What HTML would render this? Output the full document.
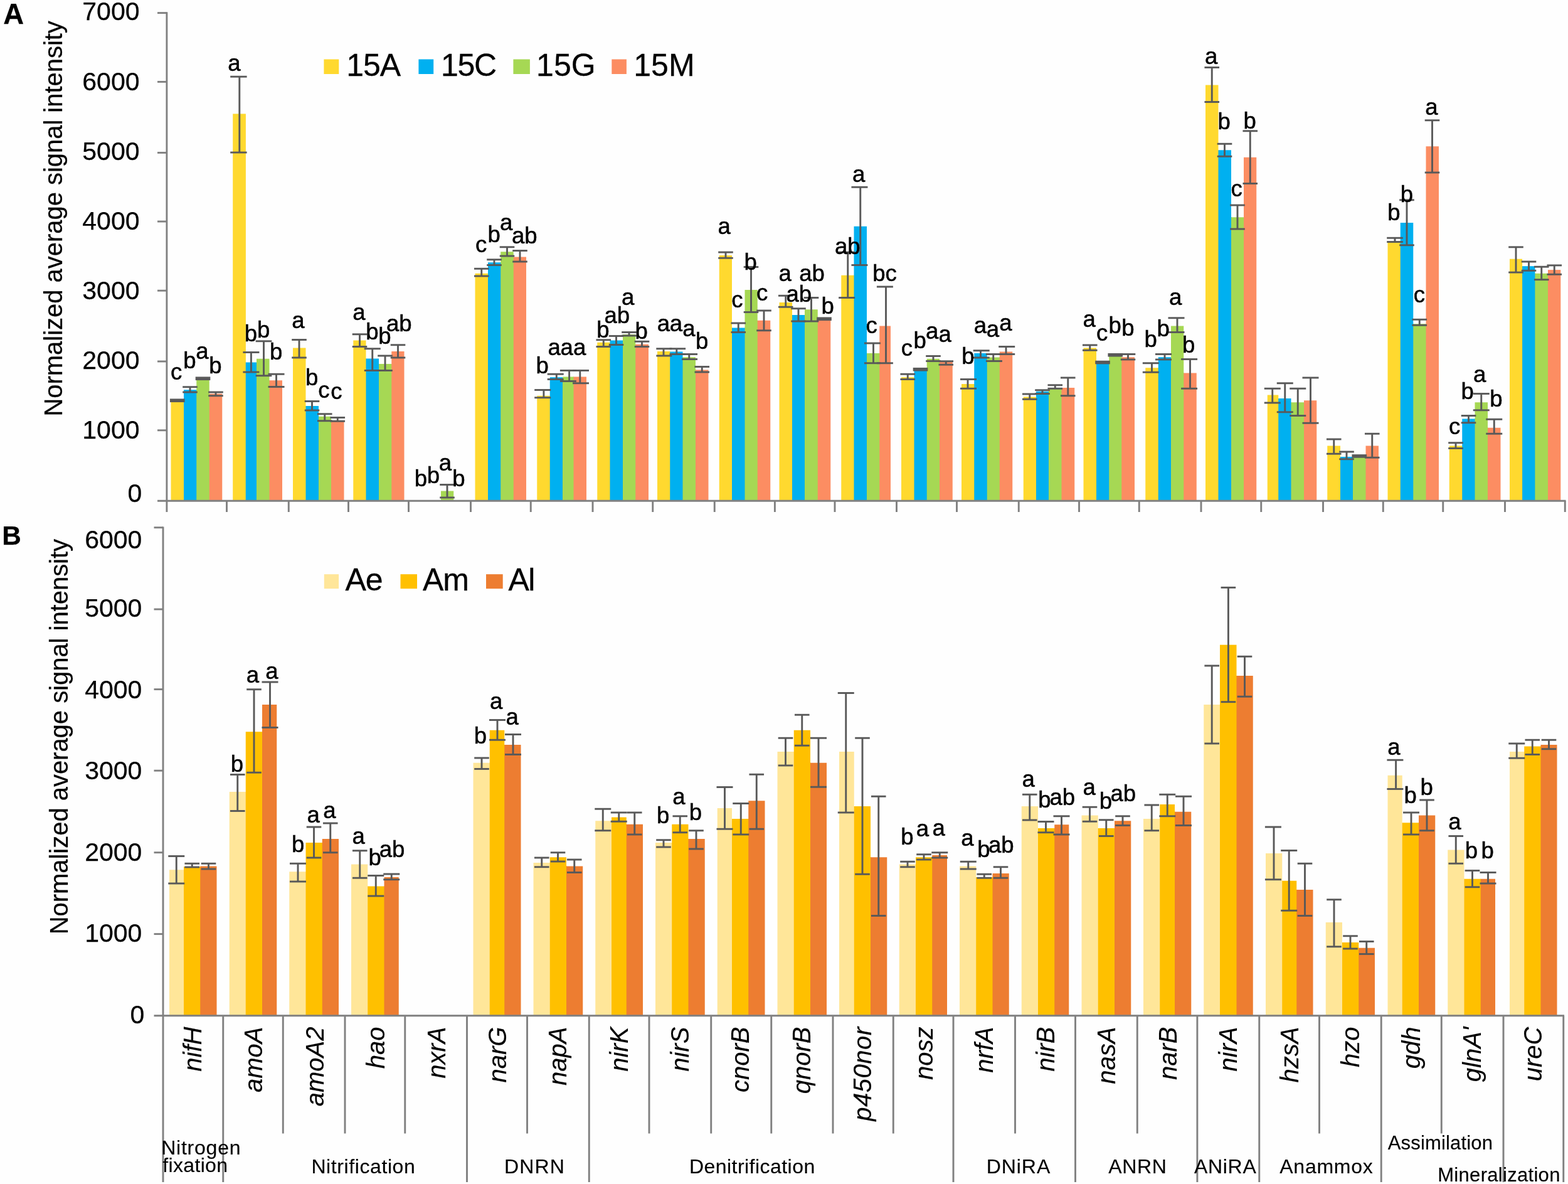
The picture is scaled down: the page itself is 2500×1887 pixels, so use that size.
<!DOCTYPE html>
<html lang="en"><head><meta charset="utf-8"><title>Normalized average signal intensity of N-cycling genes</title>
<style>
html,body{margin:0;padding:0;background:#fff;}
body{width:2500px;height:1887px;overflow:hidden;}
svg{display:block;}
svg text{stroke:#000;stroke-width:0.25px;}
svg text.l{stroke-width:0.5px;}
svg text.g{stroke-width:0.3px;}
svg text.n{stroke-width:0.15px;}
svg text{font-family:"Liberation Sans",sans-serif;fill:#000;}
</style></head>
<body>
<svg width="2500" height="1887" viewBox="0 0 2500 1887" shape-rendering="auto">
<rect x="0" y="0" width="2500" height="1887" fill="#fefefe"/>
<g id="chartA">
<rect x="293" y="639.5" width="1" height="158.7" fill="#FFD92F"/>
<rect x="313" y="621.25" width="1" height="176.95" fill="#00B0F0"/>
<rect x="333" y="627.5" width="1" height="170.7" fill="#A6D854"/>
<rect x="272.5" y="639.5" width="20.5" height="158.7" fill="#FFD92F"/>
<rect x="293" y="621.25" width="20.25" height="176.95" fill="#00B0F0"/>
<rect x="313.25" y="605" width="20.5" height="193.2" fill="#A6D854"/>
<rect x="333.75" y="627.5" width="20.5" height="170.7" fill="#FC8D62"/>
<rect x="391" y="577.5" width="1" height="220.7" fill="#FFD92F"/>
<rect x="409" y="577.5" width="1" height="220.7" fill="#00B0F0"/>
<rect x="429" y="606.25" width="1" height="191.95" fill="#A6D854"/>
<rect x="371.2" y="181.4" width="20.7" height="616.8" fill="#FFD92F"/>
<rect x="391.75" y="577.5" width="17.25" height="220.7" fill="#00B0F0"/>
<rect x="409" y="571.75" width="20.5" height="226.45" fill="#A6D854"/>
<rect x="429.5" y="606.25" width="20.5" height="191.95" fill="#FC8D62"/>
<rect x="487" y="647" width="1" height="151.2" fill="#FFD92F"/>
<rect x="508" y="663.75" width="1" height="134.45" fill="#00B0F0"/>
<rect x="528" y="670" width="1" height="128.2" fill="#A6D854"/>
<rect x="467" y="554.5" width="20.5" height="243.7" fill="#FFD92F"/>
<rect x="487.5" y="647" width="20.5" height="151.2" fill="#00B0F0"/>
<rect x="508" y="663.75" width="20" height="134.45" fill="#A6D854"/>
<rect x="528" y="670" width="20.5" height="128.2" fill="#FC8D62"/>
<rect x="583" y="571.5" width="1" height="226.7" fill="#FFD92F"/>
<rect x="604" y="580" width="1" height="218.2" fill="#00B0F0"/>
<rect x="624" y="580" width="1" height="218.2" fill="#A6D854"/>
<rect x="563.25" y="542.5" width="20.25" height="255.7" fill="#FFD92F"/>
<rect x="583.5" y="571.5" width="20.5" height="226.7" fill="#00B0F0"/>
<rect x="604" y="580" width="20.25" height="218.2" fill="#A6D854"/>
<rect x="624.25" y="560" width="20.25" height="238.2" fill="#FC8D62"/>
<rect x="703" y="782.5" width="20.25" height="15.7" fill="#A6D854"/>
<rect x="778" y="435.75" width="1" height="362.45" fill="#FFD92F"/>
<rect x="798" y="418.25" width="1" height="379.95" fill="#00B0F0"/>
<rect x="818" y="409.5" width="1" height="388.7" fill="#A6D854"/>
<rect x="757.5" y="435.75" width="20.5" height="362.45" fill="#FFD92F"/>
<rect x="778" y="418.25" width="20.25" height="379.95" fill="#00B0F0"/>
<rect x="798.25" y="401.25" width="20.5" height="396.95" fill="#A6D854"/>
<rect x="818.75" y="409.5" width="20.25" height="388.7" fill="#FC8D62"/>
<rect x="876" y="630.75" width="1" height="167.45" fill="#FFD92F"/>
<rect x="897" y="601.25" width="1" height="196.95" fill="#00B0F0"/>
<rect x="914" y="600.5" width="1" height="197.7" fill="#A6D854"/>
<rect x="856.25" y="630.75" width="20.5" height="167.45" fill="#FFD92F"/>
<rect x="876.75" y="601.25" width="20.25" height="196.95" fill="#00B0F0"/>
<rect x="897" y="600.5" width="17.5" height="197.7" fill="#A6D854"/>
<rect x="914.5" y="600.5" width="20.5" height="197.7" fill="#FC8D62"/>
<rect x="972" y="545.75" width="1" height="252.45" fill="#FFD92F"/>
<rect x="993" y="542.5" width="1" height="255.7" fill="#00B0F0"/>
<rect x="1013" y="548.75" width="1" height="249.45" fill="#A6D854"/>
<rect x="952.25" y="545.75" width="20.25" height="252.45" fill="#FFD92F"/>
<rect x="972.5" y="542.5" width="20.5" height="255.7" fill="#00B0F0"/>
<rect x="993" y="533" width="20.25" height="265.2" fill="#A6D854"/>
<rect x="1013.25" y="548.75" width="20.75" height="249.45" fill="#FC8D62"/>
<rect x="1068" y="560.5" width="1" height="237.7" fill="#FFD92F"/>
<rect x="1088" y="569.25" width="1" height="228.95" fill="#00B0F0"/>
<rect x="1109" y="589.5" width="1" height="208.7" fill="#A6D854"/>
<rect x="1048" y="560" width="20.25" height="238.2" fill="#FFD92F"/>
<rect x="1068.25" y="560.5" width="20.25" height="237.7" fill="#00B0F0"/>
<rect x="1088.5" y="569.25" width="20.5" height="228.95" fill="#A6D854"/>
<rect x="1109" y="589.5" width="20.5" height="208.7" fill="#FC8D62"/>
<rect x="1167" y="522.5" width="1" height="275.7" fill="#FFD92F"/>
<rect x="1187" y="522.5" width="1" height="275.7" fill="#00B0F0"/>
<rect x="1207" y="510.75" width="1" height="287.45" fill="#A6D854"/>
<rect x="1146.75" y="407" width="20.25" height="391.2" fill="#FFD92F"/>
<rect x="1167" y="522.5" width="20.5" height="275.7" fill="#00B0F0"/>
<rect x="1187.5" y="462" width="20.25" height="336.2" fill="#A6D854"/>
<rect x="1207.75" y="510.75" width="20.5" height="287.45" fill="#FC8D62"/>
<rect x="1263" y="502" width="1" height="296.2" fill="#FFD92F"/>
<rect x="1283" y="502" width="1" height="296.2" fill="#00B0F0"/>
<rect x="1303" y="510" width="1" height="288.2" fill="#A6D854"/>
<rect x="1242.5" y="482" width="20.5" height="316.2" fill="#FFD92F"/>
<rect x="1263" y="502" width="20" height="296.2" fill="#00B0F0"/>
<rect x="1283" y="493.25" width="20.75" height="304.95" fill="#A6D854"/>
<rect x="1303.75" y="510" width="20.5" height="288.2" fill="#FC8D62"/>
<rect x="1361" y="438.75" width="1" height="359.45" fill="#FFD92F"/>
<rect x="1382" y="563" width="1" height="235.2" fill="#00B0F0"/>
<rect x="1402" y="563" width="1" height="235.2" fill="#A6D854"/>
<rect x="1341.25" y="438.75" width="20.25" height="359.45" fill="#FFD92F"/>
<rect x="1361.5" y="360.75" width="20.5" height="437.45" fill="#00B0F0"/>
<rect x="1382" y="563" width="20.25" height="235.2" fill="#A6D854"/>
<rect x="1402.25" y="519.5" width="17.75" height="278.7" fill="#FC8D62"/>
<rect x="1457" y="601.25" width="1" height="196.95" fill="#FFD92F"/>
<rect x="1477" y="590.75" width="1" height="207.45" fill="#00B0F0"/>
<rect x="1498" y="577" width="1" height="221.2" fill="#A6D854"/>
<rect x="1437" y="601.25" width="20.5" height="196.95" fill="#FFD92F"/>
<rect x="1457.5" y="590.75" width="20.25" height="207.45" fill="#00B0F0"/>
<rect x="1477.75" y="571.75" width="20.25" height="226.45" fill="#A6D854"/>
<rect x="1498" y="577" width="20.75" height="221.2" fill="#FC8D62"/>
<rect x="1553" y="612" width="1" height="186.2" fill="#FFD92F"/>
<rect x="1573" y="569.5" width="1" height="228.7" fill="#00B0F0"/>
<rect x="1593" y="569.5" width="1" height="228.7" fill="#A6D854"/>
<rect x="1533" y="612" width="20.25" height="186.2" fill="#FFD92F"/>
<rect x="1553.25" y="563" width="20.5" height="235.2" fill="#00B0F0"/>
<rect x="1573.75" y="569.5" width="20" height="228.7" fill="#A6D854"/>
<rect x="1593.75" y="560.5" width="20.5" height="237.7" fill="#FC8D62"/>
<rect x="1652" y="632.5" width="1" height="165.7" fill="#FFD92F"/>
<rect x="1672" y="623.75" width="1" height="174.45" fill="#00B0F0"/>
<rect x="1692" y="620" width="1" height="178.2" fill="#A6D854"/>
<rect x="1631.75" y="632.5" width="20.25" height="165.7" fill="#FFD92F"/>
<rect x="1652" y="623.75" width="20" height="174.45" fill="#00B0F0"/>
<rect x="1672" y="620" width="20.5" height="178.2" fill="#A6D854"/>
<rect x="1692.5" y="618" width="20.75" height="180.2" fill="#FC8D62"/>
<rect x="1748" y="578.75" width="1" height="219.45" fill="#FFD92F"/>
<rect x="1768" y="578.75" width="1" height="219.45" fill="#00B0F0"/>
<rect x="1788" y="569.25" width="1" height="228.95" fill="#A6D854"/>
<rect x="1727.5" y="554.5" width="20.5" height="243.7" fill="#FFD92F"/>
<rect x="1748" y="578.75" width="20.25" height="219.45" fill="#00B0F0"/>
<rect x="1768.25" y="567.5" width="20" height="230.7" fill="#A6D854"/>
<rect x="1788.25" y="569.25" width="20.75" height="228.95" fill="#FC8D62"/>
<rect x="1846" y="586.25" width="1" height="211.95" fill="#FFD92F"/>
<rect x="1867" y="569.25" width="1" height="228.95" fill="#00B0F0"/>
<rect x="1887" y="594.5" width="1" height="203.7" fill="#A6D854"/>
<rect x="1826.25" y="586.25" width="20.5" height="211.95" fill="#FFD92F"/>
<rect x="1846.75" y="569.25" width="20.25" height="228.95" fill="#00B0F0"/>
<rect x="1867" y="519.5" width="20.25" height="278.7" fill="#A6D854"/>
<rect x="1887.25" y="594.5" width="20.5" height="203.7" fill="#FC8D62"/>
<rect x="1942" y="239.25" width="1" height="558.95" fill="#FFD92F"/>
<rect x="1963" y="346.25" width="1" height="451.95" fill="#00B0F0"/>
<rect x="1983" y="346.25" width="1" height="451.95" fill="#A6D854"/>
<rect x="1922" y="135.5" width="20.5" height="662.7" fill="#FFD92F"/>
<rect x="1942.5" y="239.25" width="20.5" height="558.95" fill="#00B0F0"/>
<rect x="1963" y="346.25" width="20" height="451.95" fill="#A6D854"/>
<rect x="1983" y="250.75" width="20.25" height="547.45" fill="#FC8D62"/>
<rect x="2038" y="635" width="1" height="163.2" fill="#FFD92F"/>
<rect x="2058" y="641.25" width="1" height="156.95" fill="#00B0F0"/>
<rect x="2079" y="641.25" width="1" height="156.95" fill="#A6D854"/>
<rect x="2020.75" y="629.5" width="17.5" height="168.7" fill="#FFD92F"/>
<rect x="2038.25" y="635" width="20.25" height="163.2" fill="#00B0F0"/>
<rect x="2058.5" y="641.25" width="20.5" height="156.95" fill="#A6D854"/>
<rect x="2079" y="638.25" width="20.25" height="159.95" fill="#FC8D62"/>
<rect x="2137" y="728" width="1" height="70.2" fill="#FFD92F"/>
<rect x="2157" y="728.75" width="1" height="69.45" fill="#00B0F0"/>
<rect x="2177" y="728.75" width="1" height="69.45" fill="#A6D854"/>
<rect x="2116.25" y="710.5" width="20.75" height="87.7" fill="#FFD92F"/>
<rect x="2137" y="728" width="20" height="70.2" fill="#00B0F0"/>
<rect x="2157" y="728.75" width="20.5" height="69.45" fill="#A6D854"/>
<rect x="2177.5" y="710.5" width="20.5" height="87.7" fill="#FC8D62"/>
<rect x="2232" y="385" width="1" height="413.2" fill="#FFD92F"/>
<rect x="2253" y="516.25" width="1" height="281.95" fill="#00B0F0"/>
<rect x="2273" y="516.25" width="1" height="281.95" fill="#A6D854"/>
<rect x="2212.5" y="385" width="20.25" height="413.2" fill="#FFD92F"/>
<rect x="2232.75" y="355" width="20.5" height="443.2" fill="#00B0F0"/>
<rect x="2253.25" y="516.25" width="20.25" height="281.95" fill="#A6D854"/>
<rect x="2273.5" y="233.25" width="20.5" height="564.95" fill="#FC8D62"/>
<rect x="2331" y="710.5" width="1" height="87.7" fill="#FFD92F"/>
<rect x="2351" y="667.5" width="1" height="130.7" fill="#00B0F0"/>
<rect x="2372" y="681.75" width="1" height="116.45" fill="#A6D854"/>
<rect x="2310.75" y="710.5" width="20.5" height="87.7" fill="#FFD92F"/>
<rect x="2331.25" y="667.5" width="20.25" height="130.7" fill="#00B0F0"/>
<rect x="2351.5" y="641.25" width="20.5" height="156.95" fill="#A6D854"/>
<rect x="2372" y="681.75" width="20.5" height="116.45" fill="#FC8D62"/>
<rect x="2427" y="424.2" width="1" height="374" fill="#FFD92F"/>
<rect x="2447" y="435.8" width="1" height="362.4" fill="#00B0F0"/>
<rect x="2468" y="435.8" width="1" height="362.4" fill="#A6D854"/>
<rect x="2407" y="412.7" width="20.1" height="385.5" fill="#FFD92F"/>
<rect x="2427.1" y="424.2" width="20.3" height="374" fill="#00B0F0"/>
<rect x="2447.4" y="435.8" width="20.6" height="362.4" fill="#A6D854"/>
<rect x="2468" y="430.1" width="20.3" height="368.1" fill="#FC8D62"/>
<rect x="270.95" y="635.45" width="23.6" height="5.6" fill="#595959"/>
<line x1="303" y1="616.75" x2="303" y2="625" stroke="#595959" stroke-width="2.9"/>
<line x1="291.2" y1="616.75" x2="314.8" y2="616.75" stroke="#595959" stroke-width="2.9"/>
<line x1="291.2" y1="625" x2="314.8" y2="625" stroke="#595959" stroke-width="2.9"/>
<rect x="311.7" y="600.45" width="23.6" height="5.6" fill="#595959"/>
<line x1="344" y1="625" x2="344" y2="630.75" stroke="#595959" stroke-width="2.9"/>
<line x1="332.2" y1="625" x2="355.8" y2="625" stroke="#595959" stroke-width="2.9"/>
<line x1="332.2" y1="630.75" x2="355.8" y2="630.75" stroke="#595959" stroke-width="2.9"/>
<line x1="381.8" y1="122.2" x2="381.8" y2="243" stroke="#595959" stroke-width="2.9"/>
<line x1="367.2" y1="122.2" x2="393.6" y2="122.2" stroke="#595959" stroke-width="2.9"/>
<line x1="367.2" y1="243" x2="393.6" y2="243" stroke="#595959" stroke-width="2.9"/>
<line x1="400.4" y1="561.5" x2="400.4" y2="593" stroke="#595959" stroke-width="2.9"/>
<line x1="387.4" y1="561.5" x2="413.4" y2="561.5" stroke="#595959" stroke-width="2.9"/>
<line x1="387.4" y1="593" x2="413.4" y2="593" stroke="#595959" stroke-width="2.9"/>
<line x1="420.5" y1="543.75" x2="420.5" y2="598.75" stroke="#595959" stroke-width="2.9"/>
<line x1="407.7" y1="543.75" x2="433.3" y2="543.75" stroke="#595959" stroke-width="2.9"/>
<line x1="407.7" y1="598.75" x2="433.3" y2="598.75" stroke="#595959" stroke-width="2.9"/>
<line x1="440.5" y1="596.25" x2="440.5" y2="616.5" stroke="#595959" stroke-width="2.9"/>
<line x1="427.5" y1="596.25" x2="453.5" y2="596.25" stroke="#595959" stroke-width="2.9"/>
<line x1="427.5" y1="616.5" x2="453.5" y2="616.5" stroke="#595959" stroke-width="2.9"/>
<line x1="477" y1="541.5" x2="477" y2="570" stroke="#595959" stroke-width="2.9"/>
<line x1="465.2" y1="541.5" x2="488.8" y2="541.5" stroke="#595959" stroke-width="2.9"/>
<line x1="465.2" y1="570" x2="488.8" y2="570" stroke="#595959" stroke-width="2.9"/>
<line x1="497.5" y1="639.5" x2="497.5" y2="654" stroke="#595959" stroke-width="2.9"/>
<line x1="485.7" y1="639.5" x2="509.3" y2="639.5" stroke="#595959" stroke-width="2.9"/>
<line x1="485.7" y1="654" x2="509.3" y2="654" stroke="#595959" stroke-width="2.9"/>
<line x1="517.75" y1="659.75" x2="517.75" y2="670.75" stroke="#595959" stroke-width="2.9"/>
<line x1="505.95" y1="659.75" x2="529.55" y2="659.75" stroke="#595959" stroke-width="2.9"/>
<line x1="505.95" y1="670.75" x2="529.55" y2="670.75" stroke="#595959" stroke-width="2.9"/>
<line x1="538.25" y1="665.5" x2="538.25" y2="671.25" stroke="#595959" stroke-width="2.9"/>
<line x1="526.45" y1="665.5" x2="550.05" y2="665.5" stroke="#595959" stroke-width="2.9"/>
<line x1="526.45" y1="671.25" x2="550.05" y2="671.25" stroke="#595959" stroke-width="2.9"/>
<line x1="573.5" y1="532.75" x2="573.5" y2="552.5" stroke="#595959" stroke-width="2.9"/>
<line x1="561.7" y1="532.75" x2="585.3" y2="532.75" stroke="#595959" stroke-width="2.9"/>
<line x1="561.7" y1="552.5" x2="585.3" y2="552.5" stroke="#595959" stroke-width="2.9"/>
<line x1="593.75" y1="555.75" x2="593.75" y2="590.5" stroke="#595959" stroke-width="2.9"/>
<line x1="580.75" y1="555.75" x2="606.75" y2="555.75" stroke="#595959" stroke-width="2.9"/>
<line x1="580.75" y1="590.5" x2="606.75" y2="590.5" stroke="#595959" stroke-width="2.9"/>
<line x1="614" y1="567" x2="614" y2="590.5" stroke="#595959" stroke-width="2.9"/>
<line x1="602.2" y1="567" x2="625.8" y2="567" stroke="#595959" stroke-width="2.9"/>
<line x1="602.2" y1="590.5" x2="625.8" y2="590.5" stroke="#595959" stroke-width="2.9"/>
<line x1="634.5" y1="549.75" x2="634.5" y2="570" stroke="#595959" stroke-width="2.9"/>
<line x1="622.7" y1="549.75" x2="646.3" y2="549.75" stroke="#595959" stroke-width="2.9"/>
<line x1="622.7" y1="570" x2="646.3" y2="570" stroke="#595959" stroke-width="2.9"/>
<line x1="713" y1="772.5" x2="713" y2="793" stroke="#595959" stroke-width="2.9"/>
<line x1="701.2" y1="772.5" x2="724.8" y2="772.5" stroke="#595959" stroke-width="2.9"/>
<line x1="701.2" y1="793" x2="724.8" y2="793" stroke="#595959" stroke-width="2.9"/>
<line x1="767.75" y1="428.25" x2="767.75" y2="440" stroke="#595959" stroke-width="2.9"/>
<line x1="755.95" y1="428.25" x2="779.55" y2="428.25" stroke="#595959" stroke-width="2.9"/>
<line x1="755.95" y1="440" x2="779.55" y2="440" stroke="#595959" stroke-width="2.9"/>
<line x1="788" y1="413.75" x2="788" y2="422.5" stroke="#595959" stroke-width="2.9"/>
<line x1="776.2" y1="413.75" x2="799.8" y2="413.75" stroke="#595959" stroke-width="2.9"/>
<line x1="776.2" y1="422.5" x2="799.8" y2="422.5" stroke="#595959" stroke-width="2.9"/>
<line x1="808.5" y1="393.75" x2="808.5" y2="408" stroke="#595959" stroke-width="2.9"/>
<line x1="796.7" y1="393.75" x2="820.3" y2="393.75" stroke="#595959" stroke-width="2.9"/>
<line x1="796.7" y1="408" x2="820.3" y2="408" stroke="#595959" stroke-width="2.9"/>
<line x1="829" y1="399.5" x2="829" y2="417" stroke="#595959" stroke-width="2.9"/>
<line x1="817.2" y1="399.5" x2="840.8" y2="399.5" stroke="#595959" stroke-width="2.9"/>
<line x1="817.2" y1="417" x2="840.8" y2="417" stroke="#595959" stroke-width="2.9"/>
<line x1="866.9" y1="621.5" x2="866.9" y2="633.75" stroke="#595959" stroke-width="2.9"/>
<line x1="852.2" y1="621.5" x2="878.2" y2="621.5" stroke="#595959" stroke-width="2.9"/>
<line x1="852.2" y1="633.75" x2="878.2" y2="633.75" stroke="#595959" stroke-width="2.9"/>
<line x1="887.3" y1="596.25" x2="887.3" y2="604.5" stroke="#595959" stroke-width="2.9"/>
<line x1="872.7" y1="596.25" x2="898.7" y2="596.25" stroke="#595959" stroke-width="2.9"/>
<line x1="872.7" y1="604.5" x2="898.7" y2="604.5" stroke="#595959" stroke-width="2.9"/>
<line x1="907.6" y1="590.5" x2="907.6" y2="607.5" stroke="#595959" stroke-width="2.9"/>
<line x1="892.9" y1="590.5" x2="918.9" y2="590.5" stroke="#595959" stroke-width="2.9"/>
<line x1="892.9" y1="607.5" x2="918.9" y2="607.5" stroke="#595959" stroke-width="2.9"/>
<line x1="924.8" y1="590.5" x2="924.8" y2="610.75" stroke="#595959" stroke-width="2.9"/>
<line x1="913" y1="590.5" x2="939" y2="590.5" stroke="#595959" stroke-width="2.9"/>
<line x1="913" y1="610.75" x2="939" y2="610.75" stroke="#595959" stroke-width="2.9"/>
<line x1="962.25" y1="541.75" x2="962.25" y2="552.5" stroke="#595959" stroke-width="2.9"/>
<line x1="950.45" y1="541.75" x2="974.05" y2="541.75" stroke="#595959" stroke-width="2.9"/>
<line x1="950.45" y1="552.5" x2="974.05" y2="552.5" stroke="#595959" stroke-width="2.9"/>
<line x1="982.5" y1="535.5" x2="982.5" y2="549.5" stroke="#595959" stroke-width="2.9"/>
<line x1="970.7" y1="535.5" x2="994.3" y2="535.5" stroke="#595959" stroke-width="2.9"/>
<line x1="970.7" y1="549.5" x2="994.3" y2="549.5" stroke="#595959" stroke-width="2.9"/>
<line x1="1003" y1="529.5" x2="1003" y2="535" stroke="#595959" stroke-width="2.9"/>
<line x1="991.2" y1="529.5" x2="1014.8" y2="529.5" stroke="#595959" stroke-width="2.9"/>
<line x1="991.2" y1="535" x2="1014.8" y2="535" stroke="#595959" stroke-width="2.9"/>
<line x1="1023.5" y1="544.25" x2="1023.5" y2="552.5" stroke="#595959" stroke-width="2.9"/>
<line x1="1011.7" y1="544.25" x2="1035.3" y2="544.25" stroke="#595959" stroke-width="2.9"/>
<line x1="1011.7" y1="552.5" x2="1035.3" y2="552.5" stroke="#595959" stroke-width="2.9"/>
<line x1="1058" y1="555.75" x2="1058" y2="567" stroke="#595959" stroke-width="2.9"/>
<line x1="1046.3" y1="555.75" x2="1071.3" y2="555.75" stroke="#595959" stroke-width="2.9"/>
<line x1="1046.3" y1="567" x2="1071.3" y2="567" stroke="#595959" stroke-width="2.9"/>
<line x1="1078.8" y1="555.75" x2="1078.8" y2="564.5" stroke="#595959" stroke-width="2.9"/>
<line x1="1067.5" y1="555.75" x2="1093.1" y2="555.75" stroke="#595959" stroke-width="2.9"/>
<line x1="1067.5" y1="564.5" x2="1093.1" y2="564.5" stroke="#595959" stroke-width="2.9"/>
<line x1="1098.75" y1="564.5" x2="1098.75" y2="572.5" stroke="#595959" stroke-width="2.9"/>
<line x1="1087.05" y1="564.5" x2="1112.05" y2="564.5" stroke="#595959" stroke-width="2.9"/>
<line x1="1087.05" y1="572.5" x2="1112.05" y2="572.5" stroke="#595959" stroke-width="2.9"/>
<line x1="1119.25" y1="584.5" x2="1119.25" y2="593" stroke="#595959" stroke-width="2.9"/>
<line x1="1107.45" y1="584.5" x2="1131.05" y2="584.5" stroke="#595959" stroke-width="2.9"/>
<line x1="1107.45" y1="593" x2="1131.05" y2="593" stroke="#595959" stroke-width="2.9"/>
<line x1="1157" y1="402" x2="1157" y2="411.25" stroke="#595959" stroke-width="2.9"/>
<line x1="1145.2" y1="402" x2="1168.8" y2="402" stroke="#595959" stroke-width="2.9"/>
<line x1="1145.2" y1="411.25" x2="1168.8" y2="411.25" stroke="#595959" stroke-width="2.9"/>
<line x1="1177.25" y1="515" x2="1177.25" y2="529.5" stroke="#595959" stroke-width="2.9"/>
<line x1="1165.45" y1="515" x2="1189.05" y2="515" stroke="#595959" stroke-width="2.9"/>
<line x1="1165.45" y1="529.5" x2="1189.05" y2="529.5" stroke="#595959" stroke-width="2.9"/>
<line x1="1197.5" y1="425.5" x2="1197.5" y2="497.5" stroke="#595959" stroke-width="2.9"/>
<line x1="1185.7" y1="425.5" x2="1209.3" y2="425.5" stroke="#595959" stroke-width="2.9"/>
<line x1="1185.7" y1="497.5" x2="1209.3" y2="497.5" stroke="#595959" stroke-width="2.9"/>
<line x1="1218" y1="495" x2="1218" y2="526.75" stroke="#595959" stroke-width="2.9"/>
<line x1="1206.2" y1="495" x2="1229.8" y2="495" stroke="#595959" stroke-width="2.9"/>
<line x1="1206.2" y1="526.75" x2="1229.8" y2="526.75" stroke="#595959" stroke-width="2.9"/>
<line x1="1252.75" y1="471.25" x2="1252.75" y2="489.25" stroke="#595959" stroke-width="2.9"/>
<line x1="1240.95" y1="471.25" x2="1264.55" y2="471.25" stroke="#595959" stroke-width="2.9"/>
<line x1="1240.95" y1="489.25" x2="1264.55" y2="489.25" stroke="#595959" stroke-width="2.9"/>
<line x1="1273" y1="491.75" x2="1273" y2="512" stroke="#595959" stroke-width="2.9"/>
<line x1="1261.2" y1="491.75" x2="1284.8" y2="491.75" stroke="#595959" stroke-width="2.9"/>
<line x1="1261.2" y1="512" x2="1284.8" y2="512" stroke="#595959" stroke-width="2.9"/>
<line x1="1293.5" y1="474.5" x2="1293.5" y2="512" stroke="#595959" stroke-width="2.9"/>
<line x1="1281.7" y1="474.5" x2="1305.3" y2="474.5" stroke="#595959" stroke-width="2.9"/>
<line x1="1281.7" y1="512" x2="1305.3" y2="512" stroke="#595959" stroke-width="2.9"/>
<rect x="1302.2" y="505.45" width="23.6" height="5.6" fill="#595959"/>
<line x1="1351.75" y1="402" x2="1351.75" y2="474.5" stroke="#595959" stroke-width="2.9"/>
<line x1="1337.15" y1="402" x2="1363.15" y2="402" stroke="#595959" stroke-width="2.9"/>
<line x1="1337.15" y1="474.5" x2="1363.15" y2="474.5" stroke="#595959" stroke-width="2.9"/>
<line x1="1371.75" y1="298.25" x2="1371.75" y2="422.5" stroke="#595959" stroke-width="2.9"/>
<line x1="1357.45" y1="298.25" x2="1383.45" y2="298.25" stroke="#595959" stroke-width="2.9"/>
<line x1="1357.45" y1="422.5" x2="1383.45" y2="422.5" stroke="#595959" stroke-width="2.9"/>
<line x1="1392.5" y1="547" x2="1392.5" y2="578.75" stroke="#595959" stroke-width="2.9"/>
<line x1="1377.9" y1="547" x2="1403.9" y2="547" stroke="#595959" stroke-width="2.9"/>
<line x1="1377.9" y1="578.75" x2="1403.9" y2="578.75" stroke="#595959" stroke-width="2.9"/>
<line x1="1412.5" y1="457" x2="1412.5" y2="578.75" stroke="#595959" stroke-width="2.9"/>
<line x1="1397.9" y1="457" x2="1423.9" y2="457" stroke="#595959" stroke-width="2.9"/>
<line x1="1397.9" y1="578.75" x2="1423.9" y2="578.75" stroke="#595959" stroke-width="2.9"/>
<line x1="1447.25" y1="596.25" x2="1447.25" y2="604.5" stroke="#595959" stroke-width="2.9"/>
<line x1="1435.45" y1="596.25" x2="1459.05" y2="596.25" stroke="#595959" stroke-width="2.9"/>
<line x1="1435.45" y1="604.5" x2="1459.05" y2="604.5" stroke="#595959" stroke-width="2.9"/>
<rect x="1455.7" y="585.95" width="23.6" height="5.6" fill="#595959"/>
<line x1="1488" y1="567.5" x2="1488" y2="575.5" stroke="#595959" stroke-width="2.9"/>
<line x1="1476.2" y1="567.5" x2="1499.8" y2="567.5" stroke="#595959" stroke-width="2.9"/>
<line x1="1476.2" y1="575.5" x2="1499.8" y2="575.5" stroke="#595959" stroke-width="2.9"/>
<line x1="1508.25" y1="575.75" x2="1508.25" y2="581.25" stroke="#595959" stroke-width="2.9"/>
<line x1="1496.45" y1="575.75" x2="1520.05" y2="575.75" stroke="#595959" stroke-width="2.9"/>
<line x1="1496.45" y1="581.25" x2="1520.05" y2="581.25" stroke="#595959" stroke-width="2.9"/>
<line x1="1543" y1="604.5" x2="1543" y2="619.25" stroke="#595959" stroke-width="2.9"/>
<line x1="1531" y1="604.5" x2="1557" y2="604.5" stroke="#595959" stroke-width="2.9"/>
<line x1="1531" y1="619.25" x2="1557" y2="619.25" stroke="#595959" stroke-width="2.9"/>
<line x1="1563.5" y1="558.75" x2="1563.5" y2="570" stroke="#595959" stroke-width="2.9"/>
<line x1="1551.7" y1="558.75" x2="1577.7" y2="558.75" stroke="#595959" stroke-width="2.9"/>
<line x1="1551.7" y1="570" x2="1577.7" y2="570" stroke="#595959" stroke-width="2.9"/>
<line x1="1583.75" y1="564.5" x2="1583.75" y2="575.5" stroke="#595959" stroke-width="2.9"/>
<line x1="1571.95" y1="564.5" x2="1597.95" y2="564.5" stroke="#595959" stroke-width="2.9"/>
<line x1="1571.95" y1="575.5" x2="1597.95" y2="575.5" stroke="#595959" stroke-width="2.9"/>
<line x1="1604" y1="552.5" x2="1604" y2="564.5" stroke="#595959" stroke-width="2.9"/>
<line x1="1592.2" y1="552.5" x2="1618.2" y2="552.5" stroke="#595959" stroke-width="2.9"/>
<line x1="1592.2" y1="564.5" x2="1618.2" y2="564.5" stroke="#595959" stroke-width="2.9"/>
<line x1="1641.75" y1="628" x2="1641.75" y2="636.25" stroke="#595959" stroke-width="2.9"/>
<line x1="1629.95" y1="628" x2="1653.55" y2="628" stroke="#595959" stroke-width="2.9"/>
<line x1="1629.95" y1="636.25" x2="1653.55" y2="636.25" stroke="#595959" stroke-width="2.9"/>
<line x1="1662" y1="621.75" x2="1662" y2="627.5" stroke="#595959" stroke-width="2.9"/>
<line x1="1650.2" y1="621.75" x2="1673.8" y2="621.75" stroke="#595959" stroke-width="2.9"/>
<line x1="1650.2" y1="627.5" x2="1673.8" y2="627.5" stroke="#595959" stroke-width="2.9"/>
<line x1="1682.25" y1="613.75" x2="1682.25" y2="619.25" stroke="#595959" stroke-width="2.9"/>
<line x1="1670.45" y1="613.75" x2="1694.05" y2="613.75" stroke="#595959" stroke-width="2.9"/>
<line x1="1670.45" y1="619.25" x2="1694.05" y2="619.25" stroke="#595959" stroke-width="2.9"/>
<line x1="1702.75" y1="602" x2="1702.75" y2="630.75" stroke="#595959" stroke-width="2.9"/>
<line x1="1690.95" y1="602" x2="1714.55" y2="602" stroke="#595959" stroke-width="2.9"/>
<line x1="1690.95" y1="630.75" x2="1714.55" y2="630.75" stroke="#595959" stroke-width="2.9"/>
<line x1="1737.75" y1="550" x2="1737.75" y2="558.25" stroke="#595959" stroke-width="2.9"/>
<line x1="1725.95" y1="550" x2="1749.55" y2="550" stroke="#595959" stroke-width="2.9"/>
<line x1="1725.95" y1="558.25" x2="1749.55" y2="558.25" stroke="#595959" stroke-width="2.9"/>
<rect x="1746.2" y="574.75" width="23.6" height="5.6" fill="#595959"/>
<rect x="1766.45" y="562.95" width="23.6" height="5.6" fill="#595959"/>
<line x1="1798.5" y1="564.5" x2="1798.5" y2="573" stroke="#595959" stroke-width="2.9"/>
<line x1="1786.7" y1="564.5" x2="1810.3" y2="564.5" stroke="#595959" stroke-width="2.9"/>
<line x1="1786.7" y1="573" x2="1810.3" y2="573" stroke="#595959" stroke-width="2.9"/>
<line x1="1836.5" y1="578.75" x2="1836.5" y2="593.25" stroke="#595959" stroke-width="2.9"/>
<line x1="1821.8" y1="578.75" x2="1847.8" y2="578.75" stroke="#595959" stroke-width="2.9"/>
<line x1="1821.8" y1="593.25" x2="1847.8" y2="593.25" stroke="#595959" stroke-width="2.9"/>
<line x1="1857" y1="564.5" x2="1857" y2="573" stroke="#595959" stroke-width="2.9"/>
<line x1="1842" y1="564.5" x2="1868" y2="564.5" stroke="#595959" stroke-width="2.9"/>
<line x1="1842" y1="573" x2="1868" y2="573" stroke="#595959" stroke-width="2.9"/>
<line x1="1877" y1="506.75" x2="1877" y2="529.5" stroke="#595959" stroke-width="2.9"/>
<line x1="1862.5" y1="506.75" x2="1888.5" y2="506.75" stroke="#595959" stroke-width="2.9"/>
<line x1="1862.5" y1="529.5" x2="1888.5" y2="529.5" stroke="#595959" stroke-width="2.9"/>
<line x1="1897.5" y1="572.5" x2="1897.5" y2="619.25" stroke="#595959" stroke-width="2.9"/>
<line x1="1883.1" y1="572.5" x2="1909.1" y2="572.5" stroke="#595959" stroke-width="2.9"/>
<line x1="1883.1" y1="619.25" x2="1909.1" y2="619.25" stroke="#595959" stroke-width="2.9"/>
<line x1="1932.25" y1="107.5" x2="1932.25" y2="162.5" stroke="#595959" stroke-width="2.9"/>
<line x1="1920.45" y1="107.5" x2="1944.05" y2="107.5" stroke="#595959" stroke-width="2.9"/>
<line x1="1920.45" y1="162.5" x2="1944.05" y2="162.5" stroke="#595959" stroke-width="2.9"/>
<line x1="1952.5" y1="229.25" x2="1952.5" y2="249.25" stroke="#595959" stroke-width="2.9"/>
<line x1="1940.7" y1="229.25" x2="1964.3" y2="229.25" stroke="#595959" stroke-width="2.9"/>
<line x1="1940.7" y1="249.25" x2="1964.3" y2="249.25" stroke="#595959" stroke-width="2.9"/>
<line x1="1973" y1="327" x2="1973" y2="365" stroke="#595959" stroke-width="2.9"/>
<line x1="1961.2" y1="327" x2="1984.8" y2="327" stroke="#595959" stroke-width="2.9"/>
<line x1="1961.2" y1="365" x2="1984.8" y2="365" stroke="#595959" stroke-width="2.9"/>
<line x1="1993.25" y1="208.75" x2="1993.25" y2="292.5" stroke="#595959" stroke-width="2.9"/>
<line x1="1981.45" y1="208.75" x2="2005.05" y2="208.75" stroke="#595959" stroke-width="2.9"/>
<line x1="1981.45" y1="292.5" x2="2005.05" y2="292.5" stroke="#595959" stroke-width="2.9"/>
<line x1="2028.75" y1="619.25" x2="2028.75" y2="642" stroke="#595959" stroke-width="2.9"/>
<line x1="2015.75" y1="619.25" x2="2041.75" y2="619.25" stroke="#595959" stroke-width="2.9"/>
<line x1="2015.75" y1="642" x2="2041.75" y2="642" stroke="#595959" stroke-width="2.9"/>
<line x1="2048.75" y1="610.75" x2="2048.75" y2="656.75" stroke="#595959" stroke-width="2.9"/>
<line x1="2035.75" y1="610.75" x2="2061.75" y2="610.75" stroke="#595959" stroke-width="2.9"/>
<line x1="2035.75" y1="656.75" x2="2061.75" y2="656.75" stroke="#595959" stroke-width="2.9"/>
<line x1="2069.25" y1="619.25" x2="2069.25" y2="662.5" stroke="#595959" stroke-width="2.9"/>
<line x1="2056.25" y1="619.25" x2="2082.25" y2="619.25" stroke="#595959" stroke-width="2.9"/>
<line x1="2056.25" y1="662.5" x2="2082.25" y2="662.5" stroke="#595959" stroke-width="2.9"/>
<line x1="2089.5" y1="602" x2="2089.5" y2="674.25" stroke="#595959" stroke-width="2.9"/>
<line x1="2076.5" y1="602" x2="2102.5" y2="602" stroke="#595959" stroke-width="2.9"/>
<line x1="2076.5" y1="674.25" x2="2102.5" y2="674.25" stroke="#595959" stroke-width="2.9"/>
<line x1="2126.75" y1="700" x2="2126.75" y2="723.25" stroke="#595959" stroke-width="2.9"/>
<line x1="2114.95" y1="700" x2="2138.55" y2="700" stroke="#595959" stroke-width="2.9"/>
<line x1="2114.95" y1="723.25" x2="2138.55" y2="723.25" stroke="#595959" stroke-width="2.9"/>
<line x1="2147" y1="720" x2="2147" y2="731.75" stroke="#595959" stroke-width="2.9"/>
<line x1="2135.2" y1="720" x2="2158.8" y2="720" stroke="#595959" stroke-width="2.9"/>
<line x1="2135.2" y1="731.75" x2="2158.8" y2="731.75" stroke="#595959" stroke-width="2.9"/>
<rect x="2155.45" y="724.15" width="23.6" height="5.6" fill="#595959"/>
<line x1="2187.75" y1="691.25" x2="2187.75" y2="729.25" stroke="#595959" stroke-width="2.9"/>
<line x1="2175.95" y1="691.25" x2="2199.55" y2="691.25" stroke="#595959" stroke-width="2.9"/>
<line x1="2175.95" y1="729.25" x2="2199.55" y2="729.25" stroke="#595959" stroke-width="2.9"/>
<line x1="2224" y1="379.25" x2="2224" y2="385.5" stroke="#595959" stroke-width="2.9"/>
<line x1="2211.2" y1="379.25" x2="2236.8" y2="379.25" stroke="#595959" stroke-width="2.9"/>
<line x1="2211.2" y1="385.5" x2="2236.8" y2="385.5" stroke="#595959" stroke-width="2.9"/>
<line x1="2243" y1="318.75" x2="2243" y2="390.75" stroke="#595959" stroke-width="2.9"/>
<line x1="2231.2" y1="318.75" x2="2254.8" y2="318.75" stroke="#595959" stroke-width="2.9"/>
<line x1="2231.2" y1="390.75" x2="2254.8" y2="390.75" stroke="#595959" stroke-width="2.9"/>
<line x1="2263.25" y1="509.25" x2="2263.25" y2="518.25" stroke="#595959" stroke-width="2.9"/>
<line x1="2251.45" y1="509.25" x2="2275.05" y2="509.25" stroke="#595959" stroke-width="2.9"/>
<line x1="2251.45" y1="518.25" x2="2275.05" y2="518.25" stroke="#595959" stroke-width="2.9"/>
<line x1="2283.5" y1="191.75" x2="2283.5" y2="275" stroke="#595959" stroke-width="2.9"/>
<line x1="2271.7" y1="191.75" x2="2295.3" y2="191.75" stroke="#595959" stroke-width="2.9"/>
<line x1="2271.7" y1="275" x2="2295.3" y2="275" stroke="#595959" stroke-width="2.9"/>
<line x1="2321" y1="705.75" x2="2321" y2="714.5" stroke="#595959" stroke-width="2.9"/>
<line x1="2309.2" y1="705.75" x2="2332.8" y2="705.75" stroke="#595959" stroke-width="2.9"/>
<line x1="2309.2" y1="714.5" x2="2332.8" y2="714.5" stroke="#595959" stroke-width="2.9"/>
<line x1="2341.5" y1="662.5" x2="2341.5" y2="673.75" stroke="#595959" stroke-width="2.9"/>
<line x1="2329.7" y1="662.5" x2="2353.3" y2="662.5" stroke="#595959" stroke-width="2.9"/>
<line x1="2329.7" y1="673.75" x2="2353.3" y2="673.75" stroke="#595959" stroke-width="2.9"/>
<line x1="2361.75" y1="627.5" x2="2361.75" y2="653.75" stroke="#595959" stroke-width="2.9"/>
<line x1="2348.75" y1="627.5" x2="2374.75" y2="627.5" stroke="#595959" stroke-width="2.9"/>
<line x1="2348.75" y1="653.75" x2="2374.75" y2="653.75" stroke="#595959" stroke-width="2.9"/>
<line x1="2382.25" y1="668.25" x2="2382.25" y2="691.25" stroke="#595959" stroke-width="2.9"/>
<line x1="2369.25" y1="668.25" x2="2395.25" y2="668.25" stroke="#595959" stroke-width="2.9"/>
<line x1="2369.25" y1="691.25" x2="2395.25" y2="691.25" stroke="#595959" stroke-width="2.9"/>
<line x1="2417" y1="393.8" x2="2417" y2="434.1" stroke="#595959" stroke-width="2.9"/>
<line x1="2405.2" y1="393.8" x2="2428.8" y2="393.8" stroke="#595959" stroke-width="2.9"/>
<line x1="2405.2" y1="434.1" x2="2428.8" y2="434.1" stroke="#595959" stroke-width="2.9"/>
<line x1="2437.5" y1="417" x2="2437.5" y2="431.3" stroke="#595959" stroke-width="2.9"/>
<line x1="2425.7" y1="417" x2="2449.3" y2="417" stroke="#595959" stroke-width="2.9"/>
<line x1="2425.7" y1="431.3" x2="2449.3" y2="431.3" stroke="#595959" stroke-width="2.9"/>
<line x1="2457.75" y1="425.2" x2="2457.75" y2="445.7" stroke="#595959" stroke-width="2.9"/>
<line x1="2445.95" y1="425.2" x2="2469.55" y2="425.2" stroke="#595959" stroke-width="2.9"/>
<line x1="2445.95" y1="445.7" x2="2469.55" y2="445.7" stroke="#595959" stroke-width="2.9"/>
<line x1="2478.25" y1="422.9" x2="2478.25" y2="437.3" stroke="#595959" stroke-width="2.9"/>
<line x1="2466.45" y1="422.9" x2="2490.05" y2="422.9" stroke="#595959" stroke-width="2.9"/>
<line x1="2466.45" y1="437.3" x2="2490.05" y2="437.3" stroke="#595959" stroke-width="2.9"/>
<line x1="265.9" y1="19.3" x2="265.9" y2="816" stroke="#808080" stroke-width="2.9"/>
<line x1="251" y1="798.2" x2="2496.5" y2="798.2" stroke="#808080" stroke-width="2.9"/>
<line x1="251" y1="20.6" x2="265.9" y2="20.6" stroke="#808080" stroke-width="2.9"/>
<line x1="251" y1="130.4" x2="265.9" y2="130.4" stroke="#808080" stroke-width="2.9"/>
<line x1="251" y1="243.4" x2="265.9" y2="243.4" stroke="#808080" stroke-width="2.9"/>
<line x1="251" y1="353" x2="265.9" y2="353" stroke="#808080" stroke-width="2.9"/>
<line x1="251" y1="463.2" x2="265.9" y2="463.2" stroke="#808080" stroke-width="2.9"/>
<line x1="251" y1="576" x2="265.9" y2="576" stroke="#808080" stroke-width="2.9"/>
<line x1="251" y1="685.8" x2="265.9" y2="685.8" stroke="#808080" stroke-width="2.9"/>
<line x1="361.5" y1="798.2" x2="361.5" y2="816" stroke="#808080" stroke-width="2.9"/>
<line x1="460.25" y1="798.2" x2="460.25" y2="816" stroke="#808080" stroke-width="2.9"/>
<line x1="555.5" y1="798.2" x2="555.5" y2="816" stroke="#808080" stroke-width="2.9"/>
<line x1="651.5" y1="798.2" x2="651.5" y2="816" stroke="#808080" stroke-width="2.9"/>
<line x1="750.5" y1="798.2" x2="750.5" y2="816" stroke="#808080" stroke-width="2.9"/>
<line x1="846.25" y1="798.2" x2="846.25" y2="816" stroke="#808080" stroke-width="2.9"/>
<line x1="945" y1="798.2" x2="945" y2="816" stroke="#808080" stroke-width="2.9"/>
<line x1="1040.75" y1="798.2" x2="1040.75" y2="816" stroke="#808080" stroke-width="2.9"/>
<line x1="1139.25" y1="798.2" x2="1139.25" y2="816" stroke="#808080" stroke-width="2.9"/>
<line x1="1235.4" y1="798.2" x2="1235.4" y2="816" stroke="#808080" stroke-width="2.9"/>
<line x1="1331" y1="798.2" x2="1331" y2="816" stroke="#808080" stroke-width="2.9"/>
<line x1="1429.5" y1="798.2" x2="1429.5" y2="816" stroke="#808080" stroke-width="2.9"/>
<line x1="1525.5" y1="798.2" x2="1525.5" y2="816" stroke="#808080" stroke-width="2.9"/>
<line x1="1624.25" y1="798.2" x2="1624.25" y2="816" stroke="#808080" stroke-width="2.9"/>
<line x1="1720.5" y1="798.2" x2="1720.5" y2="816" stroke="#808080" stroke-width="2.9"/>
<line x1="1816.25" y1="798.2" x2="1816.25" y2="816" stroke="#808080" stroke-width="2.9"/>
<line x1="1915" y1="798.2" x2="1915" y2="816" stroke="#808080" stroke-width="2.9"/>
<line x1="2010.75" y1="798.2" x2="2010.75" y2="816" stroke="#808080" stroke-width="2.9"/>
<line x1="2109.5" y1="798.2" x2="2109.5" y2="816" stroke="#808080" stroke-width="2.9"/>
<line x1="2205.25" y1="798.2" x2="2205.25" y2="816" stroke="#808080" stroke-width="2.9"/>
<line x1="2300.75" y1="798.2" x2="2300.75" y2="816" stroke="#808080" stroke-width="2.9"/>
<line x1="2399.5" y1="798.2" x2="2399.5" y2="816" stroke="#808080" stroke-width="2.9"/>
<line x1="2495.25" y1="798.2" x2="2495.25" y2="816" stroke="#808080" stroke-width="2.9"/>
<text x="131.29" y="32.4" font-size="41" text-anchor="start">7000</text>
<text x="131.29" y="143.9" font-size="41" text-anchor="start">6000</text>
<text x="131.29" y="254.5" font-size="41" text-anchor="start">5000</text>
<text x="131.29" y="366" font-size="41" text-anchor="start">4000</text>
<text x="131.29" y="476.8" font-size="41" text-anchor="start">3000</text>
<text x="131.29" y="588.1" font-size="41" text-anchor="start">2000</text>
<text x="131.29" y="699.3" font-size="41" text-anchor="start">1000</text>
<text x="203.6" y="800.1" font-size="41" text-anchor="start">0</text>
<text x="272.06" y="604.65" font-size="36.6" text-anchor="start" class="l">c</text>
<text x="292.16" y="587.15" font-size="36.6" text-anchor="start" class="l">b</text>
<text x="312.3" y="571.65" font-size="36.6" text-anchor="start" class="l">a</text>
<text x="333.16" y="594.65" font-size="36.6" text-anchor="start" class="l">b</text>
<text x="363.25" y="112.5" font-size="36.6" text-anchor="start" class="l">a</text>
<text x="389.66" y="543.9" font-size="36.6" text-anchor="start" class="l">b</text>
<text x="409.91" y="538.4" font-size="36.6" text-anchor="start" class="l">b</text>
<text x="429.91" y="572.65" font-size="36.6" text-anchor="start" class="l">b</text>
<text x="465.3" y="522.9" font-size="36.6" text-anchor="start" class="l">a</text>
<text x="486.91" y="613.9" font-size="36.6" text-anchor="start" class="l">b</text>
<text x="507.31" y="633.9" font-size="36.6" text-anchor="start" class="l">c</text>
<text x="527.31" y="636.4" font-size="36.6" text-anchor="start" class="l">c</text>
<text x="562.3" y="509.65" font-size="36.6" text-anchor="start" class="l">a</text>
<text x="583.16" y="540.9" font-size="36.6" text-anchor="start" class="l">b</text>
<text x="603.16" y="547.9" font-size="36.6" text-anchor="start" class="l">b</text>
<text x="615.89" y="527.65" font-size="36.6" text-anchor="start" class="l">ab</text>
<text x="660.66" y="775.4" font-size="36.6" text-anchor="start" class="l">b</text>
<text x="680.66" y="769.65" font-size="36.6" text-anchor="start" class="l">b</text>
<text x="699.8" y="749.65" font-size="36.6" text-anchor="start" class="l">a</text>
<text x="721.16" y="775.4" font-size="36.6" text-anchor="start" class="l">b</text>
<text x="758.06" y="401.65" font-size="36.6" text-anchor="start" class="l">c</text>
<text x="777.41" y="385.9" font-size="36.6" text-anchor="start" class="l">b</text>
<text x="797.05" y="367.15" font-size="36.6" text-anchor="start" class="l">a</text>
<text x="815.89" y="388.4" font-size="36.6" text-anchor="start" class="l">ab</text>
<text x="854.41" y="595.15" font-size="36.6" text-anchor="start" class="l">b</text>
<text x="873.55" y="566.4" font-size="36.6" text-anchor="start" class="l">a</text>
<text x="893.55" y="566.4" font-size="36.6" text-anchor="start" class="l">a</text>
<text x="914.05" y="566.4" font-size="36.6" text-anchor="start" class="l">a</text>
<text x="951.16" y="538.4" font-size="36.6" text-anchor="start" class="l">b</text>
<text x="963.39" y="515.4" font-size="36.6" text-anchor="start" class="l">ab</text>
<text x="991.05" y="486.4" font-size="36.6" text-anchor="start" class="l">a</text>
<text x="1012.41" y="540.15" font-size="36.6" text-anchor="start" class="l">b</text>
<text x="1047.8" y="528.4" font-size="36.6" text-anchor="start" class="l">a</text>
<text x="1067.8" y="528.4" font-size="36.6" text-anchor="start" class="l">a</text>
<text x="1088.3" y="535.9" font-size="36.6" text-anchor="start" class="l">a</text>
<text x="1108.91" y="556.4" font-size="36.6" text-anchor="start" class="l">b</text>
<text x="1144.55" y="373.4" font-size="36.6" text-anchor="start" class="l">a</text>
<text x="1166.31" y="489.65" font-size="36.6" text-anchor="start" class="l">c</text>
<text x="1186.41" y="430.15" font-size="36.6" text-anchor="start" class="l">b</text>
<text x="1206.06" y="478.9" font-size="36.6" text-anchor="start" class="l">c</text>
<text x="1241.55" y="448.4" font-size="36.6" text-anchor="start" class="l">a</text>
<text x="1253.39" y="481.4" font-size="36.6" text-anchor="start" class="l">ab</text>
<text x="1274.14" y="448.4" font-size="36.6" text-anchor="start" class="l">ab</text>
<text x="1309.41" y="499.65" font-size="36.6" text-anchor="start" class="l">b</text>
<text x="1330.89" y="405.4" font-size="36.6" text-anchor="start" class="l">ab</text>
<text x="1359.05" y="289.65" font-size="36.6" text-anchor="start" class="l">a</text>
<text x="1380.56" y="530.9" font-size="36.6" text-anchor="start" class="l">c</text>
<text x="1391.23" y="448.4" font-size="36.6" text-anchor="start" class="l">bc</text>
<text x="1436.81" y="567.15" font-size="36.6" text-anchor="start" class="l">c</text>
<text x="1456.41" y="555.4" font-size="36.6" text-anchor="start" class="l">b</text>
<text x="1476.05" y="539.65" font-size="36.6" text-anchor="start" class="l">a</text>
<text x="1496.55" y="545.4" font-size="36.6" text-anchor="start" class="l">a</text>
<text x="1533.16" y="580.4" font-size="36.6" text-anchor="start" class="l">b</text>
<text x="1552.8" y="530.9" font-size="36.6" text-anchor="start" class="l">a</text>
<text x="1572.8" y="537.15" font-size="36.6" text-anchor="start" class="l">a</text>
<text x="1593.3" y="527.15" font-size="36.6" text-anchor="start" class="l">a</text>
<text x="1726.55" y="520.9" font-size="36.6" text-anchor="start" class="l">a</text>
<text x="1748.06" y="543.4" font-size="36.6" text-anchor="start" class="l">c</text>
<text x="1767.41" y="530.9" font-size="36.6" text-anchor="start" class="l">b</text>
<text x="1788.16" y="534.65" font-size="36.6" text-anchor="start" class="l">b</text>
<text x="1824.41" y="552.9" font-size="36.6" text-anchor="start" class="l">b</text>
<text x="1844.41" y="535.9" font-size="36.6" text-anchor="start" class="l">b</text>
<text x="1864.05" y="486.4" font-size="36.6" text-anchor="start" class="l">a</text>
<text x="1884.91" y="561.9" font-size="36.6" text-anchor="start" class="l">b</text>
<text x="1921.05" y="102.15" font-size="36.6" text-anchor="start" class="l">a</text>
<text x="1941.41" y="205.9" font-size="36.6" text-anchor="start" class="l">b</text>
<text x="1962.56" y="313.4" font-size="36.6" text-anchor="start" class="l">c</text>
<text x="1982.41" y="204.65" font-size="36.6" text-anchor="start" class="l">b</text>
<text x="2212.16" y="350.9" font-size="36.6" text-anchor="start" class="l">b</text>
<text x="2232.66" y="322.15" font-size="36.6" text-anchor="start" class="l">b</text>
<text x="2253.81" y="481.65" font-size="36.6" text-anchor="start" class="l">c</text>
<text x="2272.3" y="182.9" font-size="36.6" text-anchor="start" class="l">a</text>
<text x="2310.06" y="692.15" font-size="36.6" text-anchor="start" class="l">c</text>
<text x="2329.41" y="635.9" font-size="36.6" text-anchor="start" class="l">b</text>
<text x="2349.05" y="608.9" font-size="36.6" text-anchor="start" class="l">a</text>
<text x="2375.16" y="647.9" font-size="36.6" text-anchor="start" class="l">b</text>
<rect x="516.4" y="94.5" width="23.9" height="23.5" fill="#FFD92F"/>
<rect x="667.4" y="94.5" width="23.8" height="23.5" fill="#00B0F0"/>
<rect x="818.4" y="94.5" width="26.5" height="23.5" fill="#A6D854"/>
<rect x="975.3" y="94.5" width="23.6" height="23.5" fill="#FC8D62"/>
<text x="552.29" y="121.4" font-size="50" text-anchor="start" class="g" letter-spacing="-1.08">15A</text>
<text x="702.99" y="121.4" font-size="50" text-anchor="start" class="g" letter-spacing="-1.26">15C</text>
<text x="855.09" y="121.4" font-size="50" text-anchor="start" class="g" letter-spacing="0.07">15G</text>
<text x="1010.19" y="121.4" font-size="50" text-anchor="start" class="g" letter-spacing="0.12">15M</text>
<text transform="translate(99.1,660.3) rotate(-90)" font-size="40" letter-spacing="-0.03" x="-3.28" y="0">Normalized average signal intensity</text>
<text x="5.2" y="38" font-size="45.5" text-anchor="start" font-weight="bold">A</text>
</g>
<g id="chartB">
<rect x="293" y="1386.25" width="1" height="232.5" fill="#FFE699"/>
<rect x="319" y="1381.25" width="1" height="237.5" fill="#FFC000"/>
<rect x="270" y="1386.25" width="23" height="232.5" fill="#FFE699"/>
<rect x="293" y="1381.25" width="26.25" height="237.5" fill="#FFC000"/>
<rect x="319.25" y="1380.5" width="26.25" height="238.25" fill="#ED7D31"/>
<rect x="391" y="1262" width="1" height="356.75" fill="#FFE699"/>
<rect x="418" y="1166.25" width="1" height="452.5" fill="#FFC000"/>
<rect x="365.75" y="1262" width="26" height="356.75" fill="#FFE699"/>
<rect x="391.75" y="1166.25" width="26.25" height="452.5" fill="#FFC000"/>
<rect x="418" y="1123" width="23.25" height="495.75" fill="#ED7D31"/>
<rect x="487" y="1389.25" width="1" height="229.5" fill="#FFE699"/>
<rect x="513" y="1343" width="1" height="275.75" fill="#FFC000"/>
<rect x="461.25" y="1389.25" width="26.25" height="229.5" fill="#FFE699"/>
<rect x="487.5" y="1343" width="26.25" height="275.75" fill="#FFC000"/>
<rect x="513.75" y="1337" width="26.25" height="281.75" fill="#ED7D31"/>
<rect x="586" y="1412.5" width="1" height="206.25" fill="#FFE699"/>
<rect x="612" y="1412.5" width="1" height="206.25" fill="#FFC000"/>
<rect x="560" y="1377.5" width="26.25" height="241.25" fill="#FFE699"/>
<rect x="586.25" y="1412.5" width="26.25" height="206.25" fill="#FFC000"/>
<rect x="612.5" y="1398" width="23.25" height="220.75" fill="#ED7D31"/>
<rect x="780" y="1215.75" width="1" height="403" fill="#FFE699"/>
<rect x="804" y="1187" width="1" height="431.75" fill="#FFC000"/>
<rect x="754.5" y="1215.75" width="26.25" height="403" fill="#FFE699"/>
<rect x="780.75" y="1163.75" width="23.5" height="455" fill="#FFC000"/>
<rect x="804.25" y="1187" width="26.25" height="431.75" fill="#ED7D31"/>
<rect x="876" y="1375" width="1" height="243.75" fill="#FFE699"/>
<rect x="903" y="1380.5" width="1" height="238.25" fill="#FFC000"/>
<rect x="850.5" y="1375" width="26.25" height="243.75" fill="#FFE699"/>
<rect x="876.75" y="1366.25" width="26.25" height="252.5" fill="#FFC000"/>
<rect x="903" y="1380.5" width="26.25" height="238.25" fill="#ED7D31"/>
<rect x="975" y="1308.25" width="1" height="310.5" fill="#FFE699"/>
<rect x="998" y="1313.75" width="1" height="305" fill="#FFC000"/>
<rect x="949.25" y="1308.25" width="25.75" height="310.5" fill="#FFE699"/>
<rect x="975" y="1302.5" width="23.75" height="316.25" fill="#FFC000"/>
<rect x="998.75" y="1313.75" width="26.25" height="305" fill="#ED7D31"/>
<rect x="1071" y="1343" width="1" height="275.75" fill="#FFE699"/>
<rect x="1097" y="1337" width="1" height="281.75" fill="#FFC000"/>
<rect x="1045" y="1343" width="26.25" height="275.75" fill="#FFE699"/>
<rect x="1071.25" y="1313.75" width="26.25" height="305" fill="#FFC000"/>
<rect x="1097.5" y="1337" width="26.25" height="281.75" fill="#ED7D31"/>
<rect x="1167" y="1305" width="1" height="313.75" fill="#FFE699"/>
<rect x="1193" y="1305" width="1" height="313.75" fill="#FFC000"/>
<rect x="1143.75" y="1288" width="23.25" height="330.75" fill="#FFE699"/>
<rect x="1167" y="1305" width="26.25" height="313.75" fill="#FFC000"/>
<rect x="1193.25" y="1276.25" width="26.25" height="342.5" fill="#ED7D31"/>
<rect x="1265" y="1198" width="1" height="420.75" fill="#FFE699"/>
<rect x="1292" y="1215.75" width="1" height="403" fill="#FFC000"/>
<rect x="1239.5" y="1198" width="26.25" height="420.75" fill="#FFE699"/>
<rect x="1265.75" y="1163.75" width="26.25" height="455" fill="#FFC000"/>
<rect x="1292" y="1215.75" width="26" height="403" fill="#ED7D31"/>
<rect x="1361" y="1285" width="1" height="333.75" fill="#FFE699"/>
<rect x="1388" y="1366.25" width="1" height="252.5" fill="#FFC000"/>
<rect x="1338" y="1198" width="23.75" height="420.75" fill="#FFE699"/>
<rect x="1361.75" y="1285" width="26.25" height="333.75" fill="#FFC000"/>
<rect x="1388" y="1366.25" width="26.25" height="252.5" fill="#ED7D31"/>
<rect x="1460" y="1377.5" width="1" height="241.25" fill="#FFE699"/>
<rect x="1486" y="1366.25" width="1" height="252.5" fill="#FFC000"/>
<rect x="1433.75" y="1377.5" width="26.25" height="241.25" fill="#FFE699"/>
<rect x="1460" y="1366.25" width="26.25" height="252.5" fill="#FFC000"/>
<rect x="1486.25" y="1363" width="23.75" height="255.75" fill="#ED7D31"/>
<rect x="1556" y="1398" width="1" height="220.75" fill="#FFE699"/>
<rect x="1582" y="1398" width="1" height="220.75" fill="#FFC000"/>
<rect x="1530" y="1380.5" width="26.25" height="238.25" fill="#FFE699"/>
<rect x="1556.25" y="1398" width="26.25" height="220.75" fill="#FFC000"/>
<rect x="1582.5" y="1392" width="26.25" height="226.75" fill="#ED7D31"/>
<rect x="1655" y="1320" width="1" height="298.75" fill="#FFE699"/>
<rect x="1681" y="1320" width="1" height="298.75" fill="#FFC000"/>
<rect x="1628.75" y="1285" width="26.25" height="333.75" fill="#FFE699"/>
<rect x="1655" y="1320" width="26.25" height="298.75" fill="#FFC000"/>
<rect x="1681.25" y="1314.25" width="23" height="304.5" fill="#ED7D31"/>
<rect x="1750" y="1320" width="1" height="298.75" fill="#FFE699"/>
<rect x="1777" y="1320" width="1" height="298.75" fill="#FFC000"/>
<rect x="1724.5" y="1299.5" width="26.25" height="319.25" fill="#FFE699"/>
<rect x="1750.75" y="1320" width="26.25" height="298.75" fill="#FFC000"/>
<rect x="1777" y="1308.25" width="26.25" height="310.5" fill="#ED7D31"/>
<rect x="1849" y="1305" width="1" height="313.75" fill="#FFE699"/>
<rect x="1873" y="1293.75" width="1" height="325" fill="#FFC000"/>
<rect x="1823" y="1305" width="26.25" height="313.75" fill="#FFE699"/>
<rect x="1849.25" y="1282" width="23.75" height="336.75" fill="#FFC000"/>
<rect x="1873" y="1293.75" width="26.25" height="325" fill="#ED7D31"/>
<rect x="1945" y="1123" width="1" height="495.75" fill="#FFE699"/>
<rect x="1971" y="1077" width="1" height="541.75" fill="#FFC000"/>
<rect x="1919.25" y="1123" width="25.75" height="495.75" fill="#FFE699"/>
<rect x="1945" y="1027.7" width="26.5" height="591.05" fill="#FFC000"/>
<rect x="1971.5" y="1077" width="26.25" height="541.75" fill="#ED7D31"/>
<rect x="2044" y="1403.75" width="1" height="215" fill="#FFE699"/>
<rect x="2067" y="1418" width="1" height="200.75" fill="#FFC000"/>
<rect x="2018" y="1360" width="26.25" height="258.75" fill="#FFE699"/>
<rect x="2044.25" y="1403.75" width="23" height="215" fill="#FFC000"/>
<rect x="2067.25" y="1418" width="26.25" height="200.75" fill="#ED7D31"/>
<rect x="2140" y="1502" width="1" height="116.75" fill="#FFE699"/>
<rect x="2166" y="1510.75" width="1" height="108" fill="#FFC000"/>
<rect x="2113.75" y="1470" width="26.25" height="148.75" fill="#FFE699"/>
<rect x="2140" y="1502" width="26.25" height="116.75" fill="#FFC000"/>
<rect x="2166.25" y="1510.75" width="25.75" height="108" fill="#ED7D31"/>
<rect x="2235" y="1311.25" width="1" height="307.5" fill="#FFE699"/>
<rect x="2262" y="1311.25" width="1" height="307.5" fill="#FFC000"/>
<rect x="2212.5" y="1235.75" width="23.25" height="383" fill="#FFE699"/>
<rect x="2235.75" y="1311.25" width="26.25" height="307.5" fill="#FFC000"/>
<rect x="2262" y="1299.5" width="26.25" height="319.25" fill="#ED7D31"/>
<rect x="2334" y="1400.75" width="1" height="218" fill="#FFE699"/>
<rect x="2360" y="1400.75" width="1" height="218" fill="#FFC000"/>
<rect x="2308.25" y="1354.5" width="26.25" height="264.25" fill="#FFE699"/>
<rect x="2334.5" y="1400.75" width="26.25" height="218" fill="#FFC000"/>
<rect x="2360.75" y="1400.75" width="23.25" height="218" fill="#ED7D31"/>
<rect x="2430" y="1198" width="1" height="420.75" fill="#FFE699"/>
<rect x="2456" y="1189.5" width="1" height="429.25" fill="#FFC000"/>
<rect x="2407" y="1198" width="23.25" height="420.75" fill="#FFE699"/>
<rect x="2430.25" y="1189.5" width="26.25" height="429.25" fill="#FFC000"/>
<rect x="2456.5" y="1187" width="26" height="431.75" fill="#ED7D31"/>
<line x1="281.25" y1="1364.5" x2="281.25" y2="1408" stroke="#595959" stroke-width="2.9"/>
<line x1="268.25" y1="1364.5" x2="294.25" y2="1364.5" stroke="#595959" stroke-width="2.9"/>
<line x1="268.25" y1="1408" x2="294.25" y2="1408" stroke="#595959" stroke-width="2.9"/>
<line x1="306.25" y1="1376.25" x2="306.25" y2="1382" stroke="#595959" stroke-width="2.9"/>
<line x1="294.45" y1="1376.25" x2="318.05" y2="1376.25" stroke="#595959" stroke-width="2.9"/>
<line x1="294.45" y1="1382" x2="318.05" y2="1382" stroke="#595959" stroke-width="2.9"/>
<line x1="332.5" y1="1376.25" x2="332.5" y2="1385" stroke="#595959" stroke-width="2.9"/>
<line x1="320.7" y1="1376.25" x2="344.3" y2="1376.25" stroke="#595959" stroke-width="2.9"/>
<line x1="320.7" y1="1385" x2="344.3" y2="1385" stroke="#595959" stroke-width="2.9"/>
<line x1="378.75" y1="1234.5" x2="378.75" y2="1292.5" stroke="#595959" stroke-width="2.9"/>
<line x1="366.95" y1="1234.5" x2="390.55" y2="1234.5" stroke="#595959" stroke-width="2.9"/>
<line x1="366.95" y1="1292.5" x2="390.55" y2="1292.5" stroke="#595959" stroke-width="2.9"/>
<line x1="405" y1="1098.75" x2="405" y2="1231.25" stroke="#595959" stroke-width="2.9"/>
<line x1="393.2" y1="1098.75" x2="416.8" y2="1098.75" stroke="#595959" stroke-width="2.9"/>
<line x1="393.2" y1="1231.25" x2="416.8" y2="1231.25" stroke="#595959" stroke-width="2.9"/>
<line x1="430.5" y1="1087" x2="430.5" y2="1159.5" stroke="#595959" stroke-width="2.9"/>
<line x1="417.5" y1="1087" x2="443.5" y2="1087" stroke="#595959" stroke-width="2.9"/>
<line x1="417.5" y1="1159.5" x2="443.5" y2="1159.5" stroke="#595959" stroke-width="2.9"/>
<line x1="475" y1="1376.25" x2="475" y2="1405" stroke="#595959" stroke-width="2.9"/>
<line x1="462" y1="1376.25" x2="488" y2="1376.25" stroke="#595959" stroke-width="2.9"/>
<line x1="462" y1="1405" x2="488" y2="1405" stroke="#595959" stroke-width="2.9"/>
<line x1="500.5" y1="1318" x2="500.5" y2="1367" stroke="#595959" stroke-width="2.9"/>
<line x1="488.7" y1="1318" x2="512.3" y2="1318" stroke="#595959" stroke-width="2.9"/>
<line x1="488.7" y1="1367" x2="512.3" y2="1367" stroke="#595959" stroke-width="2.9"/>
<line x1="526.75" y1="1312" x2="526.75" y2="1358.75" stroke="#595959" stroke-width="2.9"/>
<line x1="514.95" y1="1312" x2="538.55" y2="1312" stroke="#595959" stroke-width="2.9"/>
<line x1="514.95" y1="1358.75" x2="538.55" y2="1358.75" stroke="#595959" stroke-width="2.9"/>
<line x1="573.75" y1="1355.75" x2="573.75" y2="1399.25" stroke="#595959" stroke-width="2.9"/>
<line x1="561.95" y1="1355.75" x2="585.55" y2="1355.75" stroke="#595959" stroke-width="2.9"/>
<line x1="561.95" y1="1399.25" x2="585.55" y2="1399.25" stroke="#595959" stroke-width="2.9"/>
<line x1="599.25" y1="1395.5" x2="599.25" y2="1428" stroke="#595959" stroke-width="2.9"/>
<line x1="586.25" y1="1395.5" x2="612.25" y2="1395.5" stroke="#595959" stroke-width="2.9"/>
<line x1="586.25" y1="1428" x2="612.25" y2="1428" stroke="#595959" stroke-width="2.9"/>
<line x1="624.25" y1="1393" x2="624.25" y2="1401.75" stroke="#595959" stroke-width="2.9"/>
<line x1="611.25" y1="1393" x2="637.25" y2="1393" stroke="#595959" stroke-width="2.9"/>
<line x1="611.25" y1="1401.75" x2="637.25" y2="1401.75" stroke="#595959" stroke-width="2.9"/>
<line x1="768" y1="1208" x2="768" y2="1225.5" stroke="#595959" stroke-width="2.9"/>
<line x1="756.2" y1="1208" x2="779.8" y2="1208" stroke="#595959" stroke-width="2.9"/>
<line x1="756.2" y1="1225.5" x2="779.8" y2="1225.5" stroke="#595959" stroke-width="2.9"/>
<line x1="793" y1="1147.5" x2="793" y2="1179.25" stroke="#595959" stroke-width="2.9"/>
<line x1="780" y1="1147.5" x2="806" y2="1147.5" stroke="#595959" stroke-width="2.9"/>
<line x1="780" y1="1179.25" x2="806" y2="1179.25" stroke="#595959" stroke-width="2.9"/>
<line x1="818" y1="1170.5" x2="818" y2="1202.5" stroke="#595959" stroke-width="2.9"/>
<line x1="805" y1="1170.5" x2="831" y2="1170.5" stroke="#595959" stroke-width="2.9"/>
<line x1="805" y1="1202.5" x2="831" y2="1202.5" stroke="#595959" stroke-width="2.9"/>
<line x1="863.75" y1="1367" x2="863.75" y2="1381.75" stroke="#595959" stroke-width="2.9"/>
<line x1="851.95" y1="1367" x2="875.55" y2="1367" stroke="#595959" stroke-width="2.9"/>
<line x1="851.95" y1="1381.75" x2="875.55" y2="1381.75" stroke="#595959" stroke-width="2.9"/>
<line x1="889.5" y1="1358.75" x2="889.5" y2="1373" stroke="#595959" stroke-width="2.9"/>
<line x1="877.7" y1="1358.75" x2="901.3" y2="1358.75" stroke="#595959" stroke-width="2.9"/>
<line x1="877.7" y1="1373" x2="901.3" y2="1373" stroke="#595959" stroke-width="2.9"/>
<line x1="915.75" y1="1370" x2="915.75" y2="1390.5" stroke="#595959" stroke-width="2.9"/>
<line x1="903.95" y1="1370" x2="927.55" y2="1370" stroke="#595959" stroke-width="2.9"/>
<line x1="903.95" y1="1390.5" x2="927.55" y2="1390.5" stroke="#595959" stroke-width="2.9"/>
<line x1="961.25" y1="1289.25" x2="961.25" y2="1323.75" stroke="#595959" stroke-width="2.9"/>
<line x1="948.25" y1="1289.25" x2="974.25" y2="1289.25" stroke="#595959" stroke-width="2.9"/>
<line x1="948.25" y1="1323.75" x2="974.25" y2="1323.75" stroke="#595959" stroke-width="2.9"/>
<line x1="986.75" y1="1295" x2="986.75" y2="1309.25" stroke="#595959" stroke-width="2.9"/>
<line x1="973.75" y1="1295" x2="999.75" y2="1295" stroke="#595959" stroke-width="2.9"/>
<line x1="973.75" y1="1309.25" x2="999.75" y2="1309.25" stroke="#595959" stroke-width="2.9"/>
<line x1="1011.75" y1="1295" x2="1011.75" y2="1330" stroke="#595959" stroke-width="2.9"/>
<line x1="999.95" y1="1295" x2="1023.55" y2="1295" stroke="#595959" stroke-width="2.9"/>
<line x1="999.95" y1="1330" x2="1023.55" y2="1330" stroke="#595959" stroke-width="2.9"/>
<line x1="1058" y1="1338.75" x2="1058" y2="1350" stroke="#595959" stroke-width="2.9"/>
<line x1="1046.2" y1="1338.75" x2="1069.8" y2="1338.75" stroke="#595959" stroke-width="2.9"/>
<line x1="1046.2" y1="1350" x2="1069.8" y2="1350" stroke="#595959" stroke-width="2.9"/>
<line x1="1084.25" y1="1300.75" x2="1084.25" y2="1326.75" stroke="#595959" stroke-width="2.9"/>
<line x1="1072.45" y1="1300.75" x2="1096.05" y2="1300.75" stroke="#595959" stroke-width="2.9"/>
<line x1="1072.45" y1="1326.75" x2="1096.05" y2="1326.75" stroke="#595959" stroke-width="2.9"/>
<line x1="1110" y1="1323.75" x2="1110" y2="1353" stroke="#595959" stroke-width="2.9"/>
<line x1="1098.2" y1="1323.75" x2="1121.8" y2="1323.75" stroke="#595959" stroke-width="2.9"/>
<line x1="1098.2" y1="1353" x2="1121.8" y2="1353" stroke="#595959" stroke-width="2.9"/>
<line x1="1155.5" y1="1254.5" x2="1155.5" y2="1321.25" stroke="#595959" stroke-width="2.9"/>
<line x1="1142.5" y1="1254.5" x2="1168.5" y2="1254.5" stroke="#595959" stroke-width="2.9"/>
<line x1="1142.5" y1="1321.25" x2="1168.5" y2="1321.25" stroke="#595959" stroke-width="2.9"/>
<line x1="1181.25" y1="1280.5" x2="1181.25" y2="1330" stroke="#595959" stroke-width="2.9"/>
<line x1="1168.25" y1="1280.5" x2="1194.25" y2="1280.5" stroke="#595959" stroke-width="2.9"/>
<line x1="1168.25" y1="1330" x2="1194.25" y2="1330" stroke="#595959" stroke-width="2.9"/>
<line x1="1206.25" y1="1234.25" x2="1206.25" y2="1321.25" stroke="#595959" stroke-width="2.9"/>
<line x1="1194.45" y1="1234.25" x2="1218.05" y2="1234.25" stroke="#595959" stroke-width="2.9"/>
<line x1="1194.45" y1="1321.25" x2="1218.05" y2="1321.25" stroke="#595959" stroke-width="2.9"/>
<line x1="1252.5" y1="1176.25" x2="1252.5" y2="1220" stroke="#595959" stroke-width="2.9"/>
<line x1="1240.7" y1="1176.25" x2="1264.3" y2="1176.25" stroke="#595959" stroke-width="2.9"/>
<line x1="1240.7" y1="1220" x2="1264.3" y2="1220" stroke="#595959" stroke-width="2.9"/>
<line x1="1278.75" y1="1139.25" x2="1278.75" y2="1188.25" stroke="#595959" stroke-width="2.9"/>
<line x1="1266.95" y1="1139.25" x2="1290.55" y2="1139.25" stroke="#595959" stroke-width="2.9"/>
<line x1="1266.95" y1="1188.25" x2="1290.55" y2="1188.25" stroke="#595959" stroke-width="2.9"/>
<line x1="1305" y1="1176.25" x2="1305" y2="1254.25" stroke="#595959" stroke-width="2.9"/>
<line x1="1292" y1="1176.25" x2="1318" y2="1176.25" stroke="#595959" stroke-width="2.9"/>
<line x1="1292" y1="1254.25" x2="1318" y2="1254.25" stroke="#595959" stroke-width="2.9"/>
<line x1="1348.75" y1="1104.5" x2="1348.75" y2="1295" stroke="#595959" stroke-width="2.9"/>
<line x1="1335.75" y1="1104.5" x2="1361.75" y2="1104.5" stroke="#595959" stroke-width="2.9"/>
<line x1="1335.75" y1="1295" x2="1361.75" y2="1295" stroke="#595959" stroke-width="2.9"/>
<line x1="1375" y1="1176.25" x2="1375" y2="1393.25" stroke="#595959" stroke-width="2.9"/>
<line x1="1363.2" y1="1176.25" x2="1386.8" y2="1176.25" stroke="#595959" stroke-width="2.9"/>
<line x1="1363.2" y1="1393.25" x2="1386.8" y2="1393.25" stroke="#595959" stroke-width="2.9"/>
<line x1="1400.75" y1="1269.25" x2="1400.75" y2="1459.5" stroke="#595959" stroke-width="2.9"/>
<line x1="1388.95" y1="1269.25" x2="1412.55" y2="1269.25" stroke="#595959" stroke-width="2.9"/>
<line x1="1388.95" y1="1459.5" x2="1412.55" y2="1459.5" stroke="#595959" stroke-width="2.9"/>
<line x1="1447" y1="1373.25" x2="1447" y2="1381.75" stroke="#595959" stroke-width="2.9"/>
<line x1="1435.2" y1="1373.25" x2="1458.8" y2="1373.25" stroke="#595959" stroke-width="2.9"/>
<line x1="1435.2" y1="1381.75" x2="1458.8" y2="1381.75" stroke="#595959" stroke-width="2.9"/>
<line x1="1473" y1="1361.75" x2="1473" y2="1370" stroke="#595959" stroke-width="2.9"/>
<line x1="1461.2" y1="1361.75" x2="1484.8" y2="1361.75" stroke="#595959" stroke-width="2.9"/>
<line x1="1461.2" y1="1370" x2="1484.8" y2="1370" stroke="#595959" stroke-width="2.9"/>
<line x1="1498.25" y1="1358.75" x2="1498.25" y2="1367" stroke="#595959" stroke-width="2.9"/>
<line x1="1485.25" y1="1358.75" x2="1511.25" y2="1358.75" stroke="#595959" stroke-width="2.9"/>
<line x1="1485.25" y1="1367" x2="1511.25" y2="1367" stroke="#595959" stroke-width="2.9"/>
<line x1="1543.75" y1="1373.25" x2="1543.75" y2="1385" stroke="#595959" stroke-width="2.9"/>
<line x1="1530.75" y1="1373.25" x2="1556.75" y2="1373.25" stroke="#595959" stroke-width="2.9"/>
<line x1="1530.75" y1="1385" x2="1556.75" y2="1385" stroke="#595959" stroke-width="2.9"/>
<line x1="1569.25" y1="1393.25" x2="1569.25" y2="1399.25" stroke="#595959" stroke-width="2.9"/>
<line x1="1557.45" y1="1393.25" x2="1581.05" y2="1393.25" stroke="#595959" stroke-width="2.9"/>
<line x1="1557.45" y1="1399.25" x2="1581.05" y2="1399.25" stroke="#595959" stroke-width="2.9"/>
<line x1="1595.5" y1="1381.75" x2="1595.5" y2="1399.25" stroke="#595959" stroke-width="2.9"/>
<line x1="1583.7" y1="1381.75" x2="1607.3" y2="1381.75" stroke="#595959" stroke-width="2.9"/>
<line x1="1583.7" y1="1399.25" x2="1607.3" y2="1399.25" stroke="#595959" stroke-width="2.9"/>
<line x1="1641.75" y1="1266.25" x2="1641.75" y2="1307" stroke="#595959" stroke-width="2.9"/>
<line x1="1629.95" y1="1266.25" x2="1653.55" y2="1266.25" stroke="#595959" stroke-width="2.9"/>
<line x1="1629.95" y1="1307" x2="1653.55" y2="1307" stroke="#595959" stroke-width="2.9"/>
<line x1="1667.5" y1="1309.5" x2="1667.5" y2="1326.75" stroke="#595959" stroke-width="2.9"/>
<line x1="1654.5" y1="1309.5" x2="1680.5" y2="1309.5" stroke="#595959" stroke-width="2.9"/>
<line x1="1654.5" y1="1326.75" x2="1680.5" y2="1326.75" stroke="#595959" stroke-width="2.9"/>
<line x1="1692.5" y1="1300.75" x2="1692.5" y2="1330" stroke="#595959" stroke-width="2.9"/>
<line x1="1679.5" y1="1300.75" x2="1705.5" y2="1300.75" stroke="#595959" stroke-width="2.9"/>
<line x1="1679.5" y1="1330" x2="1705.5" y2="1330" stroke="#595959" stroke-width="2.9"/>
<line x1="1737.5" y1="1286.25" x2="1737.5" y2="1309.25" stroke="#595959" stroke-width="2.9"/>
<line x1="1725.7" y1="1286.25" x2="1749.3" y2="1286.25" stroke="#595959" stroke-width="2.9"/>
<line x1="1725.7" y1="1309.25" x2="1749.3" y2="1309.25" stroke="#595959" stroke-width="2.9"/>
<line x1="1763.75" y1="1306.75" x2="1763.75" y2="1332.5" stroke="#595959" stroke-width="2.9"/>
<line x1="1751.95" y1="1306.75" x2="1775.55" y2="1306.75" stroke="#595959" stroke-width="2.9"/>
<line x1="1751.95" y1="1332.5" x2="1775.55" y2="1332.5" stroke="#595959" stroke-width="2.9"/>
<line x1="1790" y1="1300.75" x2="1790" y2="1315.5" stroke="#595959" stroke-width="2.9"/>
<line x1="1778.2" y1="1300.75" x2="1801.8" y2="1300.75" stroke="#595959" stroke-width="2.9"/>
<line x1="1778.2" y1="1315.5" x2="1801.8" y2="1315.5" stroke="#595959" stroke-width="2.9"/>
<line x1="1836.25" y1="1283" x2="1836.25" y2="1323.75" stroke="#595959" stroke-width="2.9"/>
<line x1="1824.45" y1="1283" x2="1848.05" y2="1283" stroke="#595959" stroke-width="2.9"/>
<line x1="1824.45" y1="1323.75" x2="1848.05" y2="1323.75" stroke="#595959" stroke-width="2.9"/>
<line x1="1861.25" y1="1266.25" x2="1861.25" y2="1300.75" stroke="#595959" stroke-width="2.9"/>
<line x1="1848.25" y1="1266.25" x2="1874.25" y2="1266.25" stroke="#595959" stroke-width="2.9"/>
<line x1="1848.25" y1="1300.75" x2="1874.25" y2="1300.75" stroke="#595959" stroke-width="2.9"/>
<line x1="1887" y1="1269.25" x2="1887" y2="1315.5" stroke="#595959" stroke-width="2.9"/>
<line x1="1874" y1="1269.25" x2="1900" y2="1269.25" stroke="#595959" stroke-width="2.9"/>
<line x1="1874" y1="1315.5" x2="1900" y2="1315.5" stroke="#595959" stroke-width="2.9"/>
<line x1="1932.2" y1="1061" x2="1932.2" y2="1185" stroke="#595959" stroke-width="2.9"/>
<line x1="1920.4" y1="1061" x2="1944" y2="1061" stroke="#595959" stroke-width="2.9"/>
<line x1="1920.4" y1="1185" x2="1944" y2="1185" stroke="#595959" stroke-width="2.9"/>
<line x1="1958.4" y1="936.4" x2="1958.4" y2="1118.7" stroke="#595959" stroke-width="2.9"/>
<line x1="1946.6" y1="936.4" x2="1970.2" y2="936.4" stroke="#595959" stroke-width="2.9"/>
<line x1="1946.6" y1="1118.7" x2="1970.2" y2="1118.7" stroke="#595959" stroke-width="2.9"/>
<line x1="1984.5" y1="1046.3" x2="1984.5" y2="1110.2" stroke="#595959" stroke-width="2.9"/>
<line x1="1972.7" y1="1046.3" x2="1996.3" y2="1046.3" stroke="#595959" stroke-width="2.9"/>
<line x1="1972.7" y1="1110.2" x2="1996.3" y2="1110.2" stroke="#595959" stroke-width="2.9"/>
<line x1="2031" y1="1318" x2="2031" y2="1401.75" stroke="#595959" stroke-width="2.9"/>
<line x1="2016.9" y1="1318" x2="2042.9" y2="1318" stroke="#595959" stroke-width="2.9"/>
<line x1="2016.9" y1="1401.75" x2="2042.9" y2="1401.75" stroke="#595959" stroke-width="2.9"/>
<line x1="2055.2" y1="1355.5" x2="2055.2" y2="1451.25" stroke="#595959" stroke-width="2.9"/>
<line x1="2042.2" y1="1355.5" x2="2068.2" y2="1355.5" stroke="#595959" stroke-width="2.9"/>
<line x1="2042.2" y1="1451.25" x2="2068.2" y2="1451.25" stroke="#595959" stroke-width="2.9"/>
<line x1="2080.5" y1="1376.25" x2="2080.5" y2="1459.5" stroke="#595959" stroke-width="2.9"/>
<line x1="2068.7" y1="1376.25" x2="2092.3" y2="1376.25" stroke="#595959" stroke-width="2.9"/>
<line x1="2068.7" y1="1459.5" x2="2092.3" y2="1459.5" stroke="#595959" stroke-width="2.9"/>
<line x1="2127" y1="1433.75" x2="2127" y2="1508.75" stroke="#595959" stroke-width="2.9"/>
<line x1="2115.2" y1="1433.75" x2="2138.8" y2="1433.75" stroke="#595959" stroke-width="2.9"/>
<line x1="2115.2" y1="1508.75" x2="2138.8" y2="1508.75" stroke="#595959" stroke-width="2.9"/>
<line x1="2153" y1="1491.75" x2="2153" y2="1512" stroke="#595959" stroke-width="2.9"/>
<line x1="2141.2" y1="1491.75" x2="2164.8" y2="1491.75" stroke="#595959" stroke-width="2.9"/>
<line x1="2141.2" y1="1512" x2="2164.8" y2="1512" stroke="#595959" stroke-width="2.9"/>
<line x1="2178.75" y1="1500.5" x2="2178.75" y2="1520.5" stroke="#595959" stroke-width="2.9"/>
<line x1="2166.95" y1="1500.5" x2="2190.55" y2="1500.5" stroke="#595959" stroke-width="2.9"/>
<line x1="2166.95" y1="1520.5" x2="2190.55" y2="1520.5" stroke="#595959" stroke-width="2.9"/>
<line x1="2225.6" y1="1211.25" x2="2225.6" y2="1257.5" stroke="#595959" stroke-width="2.9"/>
<line x1="2211.4" y1="1211.25" x2="2237.4" y2="1211.25" stroke="#595959" stroke-width="2.9"/>
<line x1="2211.4" y1="1257.5" x2="2237.4" y2="1257.5" stroke="#595959" stroke-width="2.9"/>
<line x1="2250" y1="1295" x2="2250" y2="1330" stroke="#595959" stroke-width="2.9"/>
<line x1="2237" y1="1295" x2="2263" y2="1295" stroke="#595959" stroke-width="2.9"/>
<line x1="2237" y1="1330" x2="2263" y2="1330" stroke="#595959" stroke-width="2.9"/>
<line x1="2275" y1="1275" x2="2275" y2="1323.75" stroke="#595959" stroke-width="2.9"/>
<line x1="2263.2" y1="1275" x2="2286.8" y2="1275" stroke="#595959" stroke-width="2.9"/>
<line x1="2263.2" y1="1323.75" x2="2286.8" y2="1323.75" stroke="#595959" stroke-width="2.9"/>
<line x1="2321.25" y1="1332.5" x2="2321.25" y2="1376.25" stroke="#595959" stroke-width="2.9"/>
<line x1="2309.45" y1="1332.5" x2="2333.05" y2="1332.5" stroke="#595959" stroke-width="2.9"/>
<line x1="2309.45" y1="1376.25" x2="2333.05" y2="1376.25" stroke="#595959" stroke-width="2.9"/>
<line x1="2347.5" y1="1387.5" x2="2347.5" y2="1413.75" stroke="#595959" stroke-width="2.9"/>
<line x1="2335.7" y1="1387.5" x2="2359.3" y2="1387.5" stroke="#595959" stroke-width="2.9"/>
<line x1="2335.7" y1="1413.75" x2="2359.3" y2="1413.75" stroke="#595959" stroke-width="2.9"/>
<line x1="2372.5" y1="1390.5" x2="2372.5" y2="1408" stroke="#595959" stroke-width="2.9"/>
<line x1="2359.5" y1="1390.5" x2="2385.5" y2="1390.5" stroke="#595959" stroke-width="2.9"/>
<line x1="2359.5" y1="1408" x2="2385.5" y2="1408" stroke="#595959" stroke-width="2.9"/>
<line x1="2418.25" y1="1185" x2="2418.25" y2="1208.25" stroke="#595959" stroke-width="2.9"/>
<line x1="2405.25" y1="1185" x2="2431.25" y2="1185" stroke="#595959" stroke-width="2.9"/>
<line x1="2405.25" y1="1208.25" x2="2431.25" y2="1208.25" stroke="#595959" stroke-width="2.9"/>
<line x1="2443.25" y1="1179.25" x2="2443.25" y2="1202.5" stroke="#595959" stroke-width="2.9"/>
<line x1="2431.45" y1="1179.25" x2="2455.05" y2="1179.25" stroke="#595959" stroke-width="2.9"/>
<line x1="2431.45" y1="1202.5" x2="2455.05" y2="1202.5" stroke="#595959" stroke-width="2.9"/>
<line x1="2469.5" y1="1179.25" x2="2469.5" y2="1193.75" stroke="#595959" stroke-width="2.9"/>
<line x1="2457.7" y1="1179.25" x2="2481.3" y2="1179.25" stroke="#595959" stroke-width="2.9"/>
<line x1="2457.7" y1="1193.75" x2="2481.3" y2="1193.75" stroke="#595959" stroke-width="2.9"/>
<line x1="260" y1="839.5" x2="260" y2="1618.75" stroke="#808080" stroke-width="2.9"/>
<line x1="245.5" y1="1618.75" x2="2494" y2="1618.75" stroke="#808080" stroke-width="2.9"/>
<line x1="245.5" y1="840.75" x2="260" y2="840.75" stroke="#808080" stroke-width="2.9"/>
<line x1="245.5" y1="971" x2="260" y2="971" stroke="#808080" stroke-width="2.9"/>
<line x1="245.5" y1="1098.6" x2="260" y2="1098.6" stroke="#808080" stroke-width="2.9"/>
<line x1="245.5" y1="1228.2" x2="260" y2="1228.2" stroke="#808080" stroke-width="2.9"/>
<line x1="245.5" y1="1358.7" x2="260" y2="1358.7" stroke="#808080" stroke-width="2.9"/>
<line x1="245.5" y1="1488.6" x2="260" y2="1488.6" stroke="#808080" stroke-width="2.9"/>
<line x1="260" y1="1618.75" x2="260" y2="1884" stroke="#808080" stroke-width="2.9"/>
<line x1="355.75" y1="1618.75" x2="355.75" y2="1884" stroke="#808080" stroke-width="2.9"/>
<line x1="451.25" y1="1618.75" x2="451.25" y2="1806.5" stroke="#808080" stroke-width="2.9"/>
<line x1="550" y1="1618.75" x2="550" y2="1806.5" stroke="#808080" stroke-width="2.9"/>
<line x1="645.75" y1="1618.75" x2="645.75" y2="1806.5" stroke="#808080" stroke-width="2.9"/>
<line x1="744.5" y1="1618.75" x2="744.5" y2="1884" stroke="#808080" stroke-width="2.9"/>
<line x1="840.5" y1="1618.75" x2="840.5" y2="1806.5" stroke="#808080" stroke-width="2.9"/>
<line x1="939.25" y1="1618.75" x2="939.25" y2="1884" stroke="#808080" stroke-width="2.9"/>
<line x1="1035" y1="1618.75" x2="1035" y2="1806.5" stroke="#808080" stroke-width="2.9"/>
<line x1="1133.75" y1="1618.75" x2="1133.75" y2="1806.5" stroke="#808080" stroke-width="2.9"/>
<line x1="1229.75" y1="1618.75" x2="1229.75" y2="1806.5" stroke="#808080" stroke-width="2.9"/>
<line x1="1328" y1="1618.75" x2="1328" y2="1806.5" stroke="#808080" stroke-width="2.9"/>
<line x1="1424.25" y1="1618.75" x2="1424.25" y2="1806.5" stroke="#808080" stroke-width="2.9"/>
<line x1="1520" y1="1618.75" x2="1520" y2="1884" stroke="#808080" stroke-width="2.9"/>
<line x1="1618.5" y1="1618.75" x2="1618.5" y2="1806.5" stroke="#808080" stroke-width="2.9"/>
<line x1="1714.5" y1="1618.75" x2="1714.5" y2="1884" stroke="#808080" stroke-width="2.9"/>
<line x1="1813.25" y1="1618.75" x2="1813.25" y2="1806.5" stroke="#808080" stroke-width="2.9"/>
<line x1="1908.9" y1="1618.75" x2="1908.9" y2="1884" stroke="#808080" stroke-width="2.9"/>
<line x1="2007.75" y1="1618.75" x2="2007.75" y2="1884" stroke="#808080" stroke-width="2.9"/>
<line x1="2103.5" y1="1618.75" x2="2103.5" y2="1806.5" stroke="#808080" stroke-width="2.9"/>
<line x1="2202.2" y1="1618.75" x2="2202.2" y2="1884" stroke="#808080" stroke-width="2.9"/>
<line x1="2298.25" y1="1618.75" x2="2298.25" y2="1806.5" stroke="#808080" stroke-width="2.9"/>
<line x1="2397" y1="1618.75" x2="2397" y2="1884" stroke="#808080" stroke-width="2.9"/>
<line x1="2492.75" y1="1618.75" x2="2492.75" y2="1884" stroke="#808080" stroke-width="2.9"/>
<text x="135.19" y="873.9" font-size="41" text-anchor="start">6000</text>
<text x="135.19" y="982.9" font-size="41" text-anchor="start">5000</text>
<text x="135.19" y="1112.9" font-size="41" text-anchor="start">4000</text>
<text x="135.19" y="1241.6" font-size="41" text-anchor="start">3000</text>
<text x="135.19" y="1371.7" font-size="41" text-anchor="start">2000</text>
<text x="135.19" y="1500.6" font-size="41" text-anchor="start">1000</text>
<text x="207.6" y="1630.8" font-size="41" text-anchor="start">0</text>
<text x="367.66" y="1229.7" font-size="36.6" text-anchor="start" class="l">b</text>
<text x="392.8" y="1087.95" font-size="36.6" text-anchor="start" class="l">a</text>
<text x="423.3" y="1081.7" font-size="36.6" text-anchor="start" class="l">a</text>
<text x="464.91" y="1357.95" font-size="36.6" text-anchor="start" class="l">b</text>
<text x="489.55" y="1311.2" font-size="36.6" text-anchor="start" class="l">a</text>
<text x="515.3" y="1304.2" font-size="36.6" text-anchor="start" class="l">a</text>
<text x="561.55" y="1344.95" font-size="36.6" text-anchor="start" class="l">a</text>
<text x="587.41" y="1379.2" font-size="36.6" text-anchor="start" class="l">b</text>
<text x="604.64" y="1366.2" font-size="36.6" text-anchor="start" class="l">ab</text>
<text x="755.66" y="1185.45" font-size="36.6" text-anchor="start" class="l">b</text>
<text x="781.05" y="1130.45" font-size="36.6" text-anchor="start" class="l">a</text>
<text x="806.55" y="1154.7" font-size="36.6" text-anchor="start" class="l">a</text>
<text x="1046.91" y="1312.2" font-size="36.6" text-anchor="start" class="l">b</text>
<text x="1072.3" y="1282.45" font-size="36.6" text-anchor="start" class="l">a</text>
<text x="1098.66" y="1306.7" font-size="36.6" text-anchor="start" class="l">b</text>
<text x="1436.16" y="1345.95" font-size="36.6" text-anchor="start" class="l">b</text>
<text x="1460.8" y="1332.95" font-size="36.6" text-anchor="start" class="l">a</text>
<text x="1486.55" y="1331.7" font-size="36.6" text-anchor="start" class="l">a</text>
<text x="1532.3" y="1347.95" font-size="36.6" text-anchor="start" class="l">a</text>
<text x="1558.16" y="1366.2" font-size="36.6" text-anchor="start" class="l">b</text>
<text x="1575.89" y="1359.2" font-size="36.6" text-anchor="start" class="l">ab</text>
<text x="1629.55" y="1254.2" font-size="36.6" text-anchor="start" class="l">a</text>
<text x="1655.16" y="1286.7" font-size="36.6" text-anchor="start" class="l">b</text>
<text x="1673.39" y="1282.95" font-size="36.6" text-anchor="start" class="l">ab</text>
<text x="1726.55" y="1266.7" font-size="36.6" text-anchor="start" class="l">a</text>
<text x="1752.66" y="1289.2" font-size="36.6" text-anchor="start" class="l">b</text>
<text x="1770.39" y="1276.7" font-size="36.6" text-anchor="start" class="l">ab</text>
<text x="2212.3" y="1202.95" font-size="36.6" text-anchor="start" class="l">a</text>
<text x="2238.41" y="1280.45" font-size="36.6" text-anchor="start" class="l">b</text>
<text x="2264.41" y="1267.45" font-size="36.6" text-anchor="start" class="l">b</text>
<text x="2309.3" y="1322.45" font-size="36.6" text-anchor="start" class="l">a</text>
<text x="2335.66" y="1367.95" font-size="36.6" text-anchor="start" class="l">b</text>
<text x="2361.41" y="1367.95" font-size="36.6" text-anchor="start" class="l">b</text>
<rect x="516.8" y="915.2" width="23.3" height="23" fill="#FFE699"/>
<rect x="638.5" y="915.2" width="26.5" height="23" fill="#FFC000"/>
<rect x="775" y="915.2" width="26.7" height="23" fill="#ED7D31"/>
<text x="550.5" y="941" font-size="50" text-anchor="start" class="g" letter-spacing="-1.14">Ae</text>
<text x="673.9" y="941" font-size="50" text-anchor="start" class="g" letter-spacing="-1.01">Am</text>
<text x="810.5" y="941" font-size="50" text-anchor="start" class="g" letter-spacing="-1.62">Al</text>
<text transform="translate(108.2,1486.1) rotate(-90)" font-size="40" letter-spacing="-0.03" x="-3.28" y="0">Normalized average signal intensity</text>
<text x="3.2" y="868" font-size="42.3" text-anchor="start" font-weight="bold">B</text>
<text class="n" transform="translate(321,1636.5) rotate(-90)" font-size="40" font-style="italic" text-anchor="end" x="0" y="0">nifH</text>
<text class="n" transform="translate(418,1636.5) rotate(-90)" font-size="40" font-style="italic" text-anchor="end" x="0" y="0">amoA</text>
<text class="n" transform="translate(515.5,1636.5) rotate(-90)" font-size="40" font-style="italic" text-anchor="end" x="0" y="0">amoA2</text>
<text class="n" transform="translate(613,1636.5) rotate(-90)" font-size="40" font-style="italic" text-anchor="end" x="0" y="0">hao</text>
<text class="n" transform="translate(709.75,1636.5) rotate(-90)" font-size="40" font-style="italic" text-anchor="end" x="0" y="0">nxrA</text>
<text class="n" transform="translate(806.75,1636.5) rotate(-90)" font-size="40" font-style="italic" text-anchor="end" x="0" y="0">narG</text>
<text class="n" transform="translate(903,1636.5) rotate(-90)" font-size="40" font-style="italic" text-anchor="end" x="0" y="0">napA</text>
<text class="n" transform="translate(1000.5,1636.5) rotate(-90)" font-size="40" font-style="italic" text-anchor="end" x="0" y="0">nirK</text>
<text class="n" transform="translate(1098,1636.5) rotate(-90)" font-size="40" font-style="italic" text-anchor="end" x="0" y="0">nirS</text>
<text class="n" transform="translate(1194.25,1636.5) rotate(-90)" font-size="40" font-style="italic" text-anchor="end" x="0" y="0">cnorB</text>
<text class="n" transform="translate(1292,1636.5) rotate(-90)" font-size="40" font-style="italic" text-anchor="end" x="0" y="0">qnorB</text>
<text class="n" transform="translate(1389.25,1636.5) rotate(-90)" font-size="40" font-style="italic" text-anchor="end" letter-spacing="0.5" x="0" y="0">p450nor</text>
<text class="n" transform="translate(1486.75,1636.5) rotate(-90)" font-size="40" font-style="italic" text-anchor="end" x="0" y="0">nosz</text>
<text class="n" transform="translate(1583,1636.5) rotate(-90)" font-size="40" font-style="italic" text-anchor="end" x="0" y="0">nrfA</text>
<text class="n" transform="translate(1680.5,1636.5) rotate(-90)" font-size="40" font-style="italic" text-anchor="end" x="0" y="0">nirB</text>
<text class="n" transform="translate(1777.5,1636.5) rotate(-90)" font-size="40" font-style="italic" text-anchor="end" x="0" y="0">nasA</text>
<text class="n" transform="translate(1875.5,1636.5) rotate(-90)" font-size="40" font-style="italic" text-anchor="end" x="0" y="0">narB</text>
<text class="n" transform="translate(1972,1636.5) rotate(-90)" font-size="40" font-style="italic" text-anchor="end" x="0" y="0">nirA</text>
<text class="n" transform="translate(2070,1636.5) rotate(-90)" font-size="40" font-style="italic" text-anchor="end" x="0" y="0">hzsA</text>
<text class="n" transform="translate(2167,1636.5) rotate(-90)" font-size="40" font-style="italic" text-anchor="end" x="0" y="0">hzo</text>
<text class="n" transform="translate(2263.5,1636.5) rotate(-90)" font-size="40" font-style="italic" text-anchor="end" x="0" y="0">gdh</text>
<text class="n" transform="translate(2361,1636.5) rotate(-90)" font-size="40" font-style="italic" text-anchor="end" x="0" y="0">glnA'</text>
<text class="n" transform="translate(2457.5,1636.5) rotate(-90)" font-size="40" font-style="italic" text-anchor="end" x="0" y="0">ureC</text>
<text x="257.18" y="1840" font-size="32" text-anchor="start" class="n" letter-spacing="0.77">Nitrogen</text>
<text x="259.35" y="1868.25" font-size="32" text-anchor="start" class="n" letter-spacing="0.33">fixation</text>
<text x="496.43" y="1870" font-size="32" text-anchor="start" class="n" letter-spacing="0.59">Nitrification</text>
<text x="803.92" y="1869.5" font-size="32" text-anchor="start" class="n" letter-spacing="1.15">DNRN</text>
<text x="1098.92" y="1869.5" font-size="32" text-anchor="start" class="n" letter-spacing="0.46">Denitrification</text>
<text x="1572.67" y="1869.5" font-size="32" text-anchor="start" class="n" letter-spacing="0.95">DNiRA</text>
<text x="1767.24" y="1869.5" font-size="32" text-anchor="start" class="n" letter-spacing="0.63">ANRN</text>
<text x="1903.99" y="1869.5" font-size="32" text-anchor="start" class="n" letter-spacing="0.69">ANiRA</text>
<text x="2040.24" y="1869.5" font-size="32" text-anchor="start" class="n" letter-spacing="0.75">Anammox</text>
<text x="2212.74" y="1831.75" font-size="31" text-anchor="start" class="n" letter-spacing="0.17">Assimilation</text>
<text x="2292.26" y="1882.5" font-size="31" text-anchor="start" class="n" letter-spacing="0.3">Mineralization</text>
</g>
</svg>
</body></html>
